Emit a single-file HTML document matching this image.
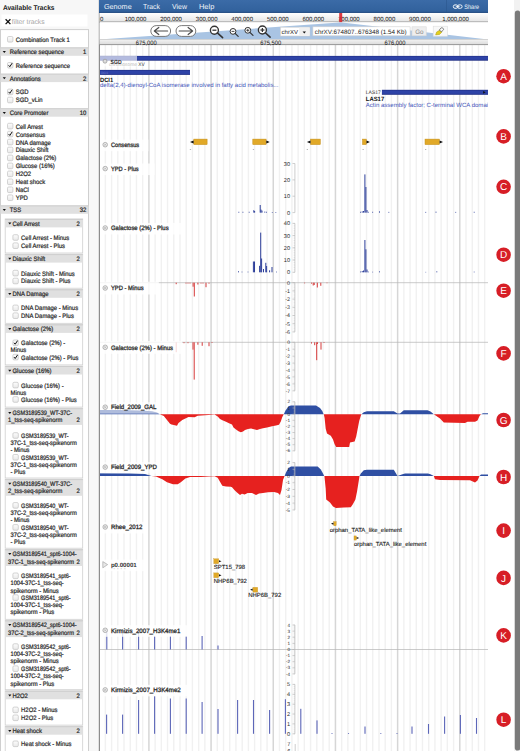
<!DOCTYPE html><html><head><meta charset="utf-8"><title>JBrowse</title><style>html,body{margin:0;padding:0;background:#fff;overflow:hidden;width:520px;height:751px}svg{display:block;text-rendering:geometricPrecision}</style></head><body><svg width="520" height="751" viewBox="0 0 520 751" font-family='"Liberation Sans", sans-serif'>
<rect x="0.00" y="0.00" width="520.00" height="751.00" fill="#ffffff" />
<defs><linearGradient id="cbg" x1="0" y1="0" x2="0" y2="1"><stop offset="0" stop-color="#fdfdfd"/><stop offset="1" stop-color="#e9e9e9"/></linearGradient></defs>
<rect x="0.00" y="0.00" width="99.00" height="751.00" fill="#f7f7f7" />
<text x="2.90" y="10.41" font-size="7.0" fill="#1a1a1a" font-weight="bold" textLength="51.60" lengthAdjust="spacingAndGlyphs" >Available Tracks</text>
<rect x="1.50" y="14.50" width="86.00" height="12.00" fill="#ffffff" />
<path d="M5.6 19.3 L10.4 24.1 M10.4 19.3 L5.6 24.1" fill="none" stroke="#111" stroke-width="1.3" />
<text x="11.80" y="24.47" font-size="6.8" fill="#a6a6a6" >filter tracks</text>
<rect x="0.50" y="29.60" width="88.00" height="730.00" fill="#ffffff" stroke="#cfcfcf" stroke-width="1"/>
<rect x="7.50" y="36.50" width="5.4" height="5.6" rx="1.2" fill="url(#cbg)" stroke="#c2c2c2" stroke-width="0.7"/>
<text x="0.00" y="0.00" font-size="6.4" fill="#2a2a2a" transform="translate(15.70 41.78) scale(0.922 1)" stroke="#2a2a2a" stroke-width="0.22" >Combination Track 1</text>
<rect x="0.50" y="47.40" width="87.90" height="8.40" fill="#e0e0e0" />
<line x1="0.50" y1="47.80" x2="88.40" y2="47.80" stroke="#c8c8c8" stroke-width="0.8" />
<path d="M2.70 51.00 L5.90 51.00 L4.30 53.00 Z" fill="#111" stroke="none" stroke-width="1" />
<text x="0.00" y="0.00" font-size="6.4" fill="#2a2a2a" transform="translate(9.70 54.38) scale(0.922 1)" stroke="#2a2a2a" stroke-width="0.22" >Reference sequence</text>
<text x="0.00" y="0.00" font-size="6.4" fill="#2a2a2a" transform="translate(86.30 54.38) scale(0.922 1)" text-anchor="end" stroke="#2a2a2a" stroke-width="0.22" >1</text>
<rect x="7.50" y="62.50" width="5.4" height="5.6" rx="1.2" fill="url(#cbg)" stroke="#c2c2c2" stroke-width="0.7"/>
<path d="M8.60 65.30 L9.80 66.70 L12.20 63.10" fill="none" stroke="#111" stroke-width="1.0" />
<text x="0.00" y="0.00" font-size="6.4" fill="#2a2a2a" transform="translate(15.70 67.78) scale(0.922 1)" stroke="#2a2a2a" stroke-width="0.22" >Reference sequence</text>
<rect x="0.50" y="73.70" width="87.90" height="8.40" fill="#e0e0e0" />
<line x1="0.50" y1="74.10" x2="88.40" y2="74.10" stroke="#c8c8c8" stroke-width="0.8" />
<path d="M2.70 77.30 L5.90 77.30 L4.30 79.30 Z" fill="#111" stroke="none" stroke-width="1" />
<text x="0.00" y="0.00" font-size="6.4" fill="#2a2a2a" transform="translate(9.70 80.68) scale(0.922 1)" stroke="#2a2a2a" stroke-width="0.22" >Annotations</text>
<text x="0.00" y="0.00" font-size="6.4" fill="#2a2a2a" transform="translate(86.30 80.68) scale(0.922 1)" text-anchor="end" stroke="#2a2a2a" stroke-width="0.22" >2</text>
<rect x="7.50" y="89.10" width="5.4" height="5.6" rx="1.2" fill="url(#cbg)" stroke="#c2c2c2" stroke-width="0.7"/>
<path d="M8.60 91.90 L9.80 93.30 L12.20 89.70" fill="none" stroke="#111" stroke-width="1.0" />
<text x="0.00" y="0.00" font-size="6.4" fill="#2a2a2a" transform="translate(15.70 94.38) scale(0.922 1)" stroke="#2a2a2a" stroke-width="0.22" >SGD</text>
<rect x="7.50" y="97.20" width="5.4" height="5.6" rx="1.2" fill="url(#cbg)" stroke="#c2c2c2" stroke-width="0.7"/>
<text x="0.00" y="0.00" font-size="6.4" fill="#2a2a2a" transform="translate(15.70 102.48) scale(0.922 1)" stroke="#2a2a2a" stroke-width="0.22" >SGD_vLin</text>
<rect x="0.50" y="108.30" width="87.90" height="8.40" fill="#e0e0e0" />
<line x1="0.50" y1="108.70" x2="88.40" y2="108.70" stroke="#c8c8c8" stroke-width="0.8" />
<path d="M2.70 111.90 L5.90 111.90 L4.30 113.90 Z" fill="#111" stroke="none" stroke-width="1" />
<text x="0.00" y="0.00" font-size="6.4" fill="#2a2a2a" transform="translate(9.70 115.28) scale(0.922 1)" stroke="#2a2a2a" stroke-width="0.22" >Core Promoter</text>
<text x="0.00" y="0.00" font-size="6.4" fill="#2a2a2a" transform="translate(86.30 115.28) scale(0.922 1)" text-anchor="end" stroke="#2a2a2a" stroke-width="0.22" >10</text>
<rect x="7.50" y="123.30" width="5.4" height="5.6" rx="1.2" fill="url(#cbg)" stroke="#c2c2c2" stroke-width="0.7"/>
<text x="0.00" y="0.00" font-size="6.4" fill="#2a2a2a" transform="translate(15.70 128.58) scale(0.922 1)" stroke="#2a2a2a" stroke-width="0.22" >Cell Arrest</text>
<rect x="7.50" y="131.26" width="5.4" height="5.6" rx="1.2" fill="url(#cbg)" stroke="#c2c2c2" stroke-width="0.7"/>
<path d="M8.60 134.06 L9.80 135.46 L12.20 131.86" fill="none" stroke="#111" stroke-width="1.0" />
<text x="0.00" y="0.00" font-size="6.4" fill="#2a2a2a" transform="translate(15.70 136.54) scale(0.922 1)" stroke="#2a2a2a" stroke-width="0.22" >Consensus</text>
<rect x="7.50" y="139.22" width="5.4" height="5.6" rx="1.2" fill="url(#cbg)" stroke="#c2c2c2" stroke-width="0.7"/>
<text x="0.00" y="0.00" font-size="6.4" fill="#2a2a2a" transform="translate(15.70 144.50) scale(0.922 1)" stroke="#2a2a2a" stroke-width="0.22" >DNA damage</text>
<rect x="7.50" y="147.18" width="5.4" height="5.6" rx="1.2" fill="url(#cbg)" stroke="#c2c2c2" stroke-width="0.7"/>
<text x="0.00" y="0.00" font-size="6.4" fill="#2a2a2a" transform="translate(15.70 152.46) scale(0.922 1)" stroke="#2a2a2a" stroke-width="0.22" >Diauxic Shift</text>
<rect x="7.50" y="155.14" width="5.4" height="5.6" rx="1.2" fill="url(#cbg)" stroke="#c2c2c2" stroke-width="0.7"/>
<text x="0.00" y="0.00" font-size="6.4" fill="#2a2a2a" transform="translate(15.70 160.42) scale(0.922 1)" stroke="#2a2a2a" stroke-width="0.22" >Galactose (2%)</text>
<rect x="7.50" y="163.10" width="5.4" height="5.6" rx="1.2" fill="url(#cbg)" stroke="#c2c2c2" stroke-width="0.7"/>
<text x="0.00" y="0.00" font-size="6.4" fill="#2a2a2a" transform="translate(15.70 168.38) scale(0.922 1)" stroke="#2a2a2a" stroke-width="0.22" >Glucose (16%)</text>
<rect x="7.50" y="171.06" width="5.4" height="5.6" rx="1.2" fill="url(#cbg)" stroke="#c2c2c2" stroke-width="0.7"/>
<text x="0.00" y="0.00" font-size="6.4" fill="#2a2a2a" transform="translate(15.70 176.34) scale(0.922 1)" stroke="#2a2a2a" stroke-width="0.22" >H2O2</text>
<rect x="7.50" y="179.02" width="5.4" height="5.6" rx="1.2" fill="url(#cbg)" stroke="#c2c2c2" stroke-width="0.7"/>
<text x="0.00" y="0.00" font-size="6.4" fill="#2a2a2a" transform="translate(15.70 184.30) scale(0.922 1)" stroke="#2a2a2a" stroke-width="0.22" >Heat shock</text>
<rect x="7.50" y="186.98" width="5.4" height="5.6" rx="1.2" fill="url(#cbg)" stroke="#c2c2c2" stroke-width="0.7"/>
<text x="0.00" y="0.00" font-size="6.4" fill="#2a2a2a" transform="translate(15.70 192.26) scale(0.922 1)" stroke="#2a2a2a" stroke-width="0.22" >NaCl</text>
<rect x="7.50" y="194.94" width="5.4" height="5.6" rx="1.2" fill="url(#cbg)" stroke="#c2c2c2" stroke-width="0.7"/>
<text x="0.00" y="0.00" font-size="6.4" fill="#2a2a2a" transform="translate(15.70 200.22) scale(0.922 1)" stroke="#2a2a2a" stroke-width="0.22" >YPD</text>
<rect x="0.50" y="205.40" width="87.90" height="8.40" fill="#e0e0e0" />
<line x1="0.50" y1="205.80" x2="88.40" y2="205.80" stroke="#c8c8c8" stroke-width="0.8" />
<path d="M2.70 209.00 L5.90 209.00 L4.30 211.00 Z" fill="#111" stroke="none" stroke-width="1" />
<text x="0.00" y="0.00" font-size="6.4" fill="#2a2a2a" transform="translate(9.70 212.38) scale(0.922 1)" stroke="#2a2a2a" stroke-width="0.22" >TSS</text>
<text x="0.00" y="0.00" font-size="6.4" fill="#2a2a2a" transform="translate(86.30 212.38) scale(0.922 1)" text-anchor="end" stroke="#2a2a2a" stroke-width="0.22" >32</text>
<rect x="5.20" y="219.00" width="77.50" height="34.00" fill="#ffffff" stroke="#cfcfcf" stroke-width="0.8"/>
<rect x="5.20" y="219.00" width="77.50" height="8.40" fill="#e0e0e0" />
<line x1="5.20" y1="219.40" x2="82.70" y2="219.40" stroke="#c8c8c8" stroke-width="0.8" />
<path d="M8.20 222.60 L11.40 222.60 L9.80 224.60 Z" fill="#111" stroke="none" stroke-width="1" />
<text x="0.00" y="0.00" font-size="6.4" fill="#2a2a2a" transform="translate(12.50 225.98) scale(0.922 1)" stroke="#2a2a2a" stroke-width="0.22" >Cell Arrest</text>
<text x="0.00" y="0.00" font-size="6.4" fill="#2a2a2a" transform="translate(79.70 225.98) scale(0.922 1)" text-anchor="end" stroke="#2a2a2a" stroke-width="0.22" >2</text>
<rect x="12.90" y="234.70" width="5.4" height="5.6" rx="1.2" fill="url(#cbg)" stroke="#c2c2c2" stroke-width="0.7"/>
<text x="0.00" y="0.00" font-size="6.4" fill="#2a2a2a" transform="translate(21.10 239.98) scale(0.922 1)" stroke="#2a2a2a" stroke-width="0.22" >Cell Arrest - Minus</text>
<rect x="12.90" y="242.90" width="5.4" height="5.6" rx="1.2" fill="url(#cbg)" stroke="#c2c2c2" stroke-width="0.7"/>
<text x="0.00" y="0.00" font-size="6.4" fill="#2a2a2a" transform="translate(21.10 248.18) scale(0.922 1)" stroke="#2a2a2a" stroke-width="0.22" >Cell Arrest - Plus</text>
<rect x="5.20" y="254.20" width="77.50" height="34.00" fill="#ffffff" stroke="#cfcfcf" stroke-width="0.8"/>
<rect x="5.20" y="254.20" width="77.50" height="8.40" fill="#e0e0e0" />
<line x1="5.20" y1="254.60" x2="82.70" y2="254.60" stroke="#c8c8c8" stroke-width="0.8" />
<path d="M8.20 257.80 L11.40 257.80 L9.80 259.80 Z" fill="#111" stroke="none" stroke-width="1" />
<text x="0.00" y="0.00" font-size="6.4" fill="#2a2a2a" transform="translate(12.50 261.18) scale(0.922 1)" stroke="#2a2a2a" stroke-width="0.22" >Diauxic Shift</text>
<text x="0.00" y="0.00" font-size="6.4" fill="#2a2a2a" transform="translate(79.70 261.18) scale(0.922 1)" text-anchor="end" stroke="#2a2a2a" stroke-width="0.22" >2</text>
<rect x="12.90" y="270.30" width="5.4" height="5.6" rx="1.2" fill="url(#cbg)" stroke="#c2c2c2" stroke-width="0.7"/>
<text x="0.00" y="0.00" font-size="6.4" fill="#2a2a2a" transform="translate(21.10 275.58) scale(0.922 1)" stroke="#2a2a2a" stroke-width="0.22" >Diauxic Shift - Minus</text>
<rect x="12.90" y="278.20" width="5.4" height="5.6" rx="1.2" fill="url(#cbg)" stroke="#c2c2c2" stroke-width="0.7"/>
<text x="0.00" y="0.00" font-size="6.4" fill="#2a2a2a" transform="translate(21.10 283.48) scale(0.922 1)" stroke="#2a2a2a" stroke-width="0.22" >Diauxic Shift - Plus</text>
<rect x="5.20" y="289.40" width="77.50" height="33.90" fill="#ffffff" stroke="#cfcfcf" stroke-width="0.8"/>
<rect x="5.20" y="289.40" width="77.50" height="8.40" fill="#e0e0e0" />
<line x1="5.20" y1="289.80" x2="82.70" y2="289.80" stroke="#c8c8c8" stroke-width="0.8" />
<path d="M8.20 293.00 L11.40 293.00 L9.80 295.00 Z" fill="#111" stroke="none" stroke-width="1" />
<text x="0.00" y="0.00" font-size="6.4" fill="#2a2a2a" transform="translate(12.50 296.38) scale(0.922 1)" stroke="#2a2a2a" stroke-width="0.22" >DNA Damage</text>
<text x="0.00" y="0.00" font-size="6.4" fill="#2a2a2a" transform="translate(79.70 296.38) scale(0.922 1)" text-anchor="end" stroke="#2a2a2a" stroke-width="0.22" >2</text>
<rect x="12.90" y="305.10" width="5.4" height="5.6" rx="1.2" fill="url(#cbg)" stroke="#c2c2c2" stroke-width="0.7"/>
<text x="0.00" y="0.00" font-size="6.4" fill="#2a2a2a" transform="translate(21.10 310.38) scale(0.922 1)" stroke="#2a2a2a" stroke-width="0.22" >DNA Damage - Minus</text>
<rect x="12.90" y="312.90" width="5.4" height="5.6" rx="1.2" fill="url(#cbg)" stroke="#c2c2c2" stroke-width="0.7"/>
<text x="0.00" y="0.00" font-size="6.4" fill="#2a2a2a" transform="translate(21.10 318.18) scale(0.922 1)" stroke="#2a2a2a" stroke-width="0.22" >DNA Damage - Plus</text>
<rect x="5.20" y="324.50" width="77.50" height="40.40" fill="#ffffff" stroke="#cfcfcf" stroke-width="0.8"/>
<rect x="5.20" y="324.50" width="77.50" height="8.40" fill="#e0e0e0" />
<line x1="5.20" y1="324.90" x2="82.70" y2="324.90" stroke="#c8c8c8" stroke-width="0.8" />
<path d="M8.20 328.10 L11.40 328.10 L9.80 330.10 Z" fill="#111" stroke="none" stroke-width="1" />
<text x="0.00" y="0.00" font-size="6.4" fill="#2a2a2a" transform="translate(12.50 331.48) scale(0.922 1)" stroke="#2a2a2a" stroke-width="0.22" >Galactose (2%)</text>
<text x="0.00" y="0.00" font-size="6.4" fill="#2a2a2a" transform="translate(79.70 331.48) scale(0.922 1)" text-anchor="end" stroke="#2a2a2a" stroke-width="0.22" >2</text>
<rect x="12.90" y="340.00" width="5.4" height="5.6" rx="1.2" fill="url(#cbg)" stroke="#c2c2c2" stroke-width="0.7"/>
<path d="M14.00 342.80 L15.20 344.20 L17.60 340.60" fill="none" stroke="#111" stroke-width="1.0" />
<text x="0.00" y="0.00" font-size="6.4" fill="#2a2a2a" transform="translate(21.10 345.28) scale(0.922 1)" stroke="#2a2a2a" stroke-width="0.22" >Galactose (2%) -</text>
<text x="0.00" y="0.00" font-size="6.4" fill="#2a2a2a" transform="translate(10.50 352.48) scale(0.922 1)" stroke="#2a2a2a" stroke-width="0.22" >Minus</text>
<rect x="12.90" y="354.30" width="5.4" height="5.6" rx="1.2" fill="url(#cbg)" stroke="#c2c2c2" stroke-width="0.7"/>
<path d="M14.00 357.10 L15.20 358.50 L17.60 354.90" fill="none" stroke="#111" stroke-width="1.0" />
<text x="0.00" y="0.00" font-size="6.4" fill="#2a2a2a" transform="translate(21.10 359.58) scale(0.922 1)" stroke="#2a2a2a" stroke-width="0.22" >Galactose (2%) - Plus</text>
<rect x="5.20" y="366.10" width="77.50" height="41.00" fill="#ffffff" stroke="#cfcfcf" stroke-width="0.8"/>
<rect x="5.20" y="366.10" width="77.50" height="8.40" fill="#e0e0e0" />
<line x1="5.20" y1="366.50" x2="82.70" y2="366.50" stroke="#c8c8c8" stroke-width="0.8" />
<path d="M8.20 369.70 L11.40 369.70 L9.80 371.70 Z" fill="#111" stroke="none" stroke-width="1" />
<text x="0.00" y="0.00" font-size="6.4" fill="#2a2a2a" transform="translate(12.50 373.08) scale(0.922 1)" stroke="#2a2a2a" stroke-width="0.22" >Glucose (16%)</text>
<text x="0.00" y="0.00" font-size="6.4" fill="#2a2a2a" transform="translate(79.70 373.08) scale(0.922 1)" text-anchor="end" stroke="#2a2a2a" stroke-width="0.22" >2</text>
<rect x="12.90" y="382.30" width="5.4" height="5.6" rx="1.2" fill="url(#cbg)" stroke="#c2c2c2" stroke-width="0.7"/>
<text x="0.00" y="0.00" font-size="6.4" fill="#2a2a2a" transform="translate(21.10 387.58) scale(0.922 1)" stroke="#2a2a2a" stroke-width="0.22" >Glucose (16%) -</text>
<text x="0.00" y="0.00" font-size="6.4" fill="#2a2a2a" transform="translate(10.50 394.78) scale(0.922 1)" stroke="#2a2a2a" stroke-width="0.22" >Minus</text>
<rect x="12.90" y="396.70" width="5.4" height="5.6" rx="1.2" fill="url(#cbg)" stroke="#c2c2c2" stroke-width="0.7"/>
<text x="0.00" y="0.00" font-size="6.4" fill="#2a2a2a" transform="translate(21.10 401.98) scale(0.922 1)" stroke="#2a2a2a" stroke-width="0.22" >Glucose (16%) - Plus</text>
<rect x="5.20" y="408.30" width="77.50" height="69.70" fill="#ffffff" stroke="#cfcfcf" stroke-width="0.8"/>
<rect x="5.20" y="408.30" width="77.50" height="16.60" fill="#e0e0e0" />
<line x1="5.20" y1="408.70" x2="82.70" y2="408.70" stroke="#c8c8c8" stroke-width="0.8" />
<path d="M8.20 411.90 L11.40 411.90 L9.80 413.90 Z" fill="#111" stroke="none" stroke-width="1" />
<text x="0.00" y="0.00" font-size="6.4" fill="#2a2a2a" transform="translate(12.50 415.28) scale(0.922 1)" textLength="64.75" lengthAdjust="spacingAndGlyphs" stroke="#2a2a2a" stroke-width="0.22" >GSM3189539_WT-37C-</text>
<text x="0.00" y="0.00" font-size="6.4" fill="#2a2a2a" transform="translate(8.10 422.48) scale(0.922 1)" textLength="58.79" lengthAdjust="spacingAndGlyphs" stroke="#2a2a2a" stroke-width="0.22" >1_tss-seq-spikenorm</text>
<text x="0.00" y="0.00" font-size="6.4" fill="#2a2a2a" transform="translate(79.70 422.48) scale(0.922 1)" text-anchor="end" stroke="#2a2a2a" stroke-width="0.22" >2</text>
<rect x="12.90" y="432.70" width="5.4" height="5.6" rx="1.2" fill="url(#cbg)" stroke="#c2c2c2" stroke-width="0.7"/>
<text x="0.00" y="0.00" font-size="6.4" fill="#2a2a2a" transform="translate(21.10 437.98) scale(0.922 1)" textLength="51.52" lengthAdjust="spacingAndGlyphs" stroke="#2a2a2a" stroke-width="0.22" >GSM3189539_WT-</text>
<text x="0.00" y="0.00" font-size="6.4" fill="#2a2a2a" transform="translate(10.50 445.18) scale(0.922 1)" textLength="71.91" lengthAdjust="spacingAndGlyphs" stroke="#2a2a2a" stroke-width="0.22" >37C-1_tss-seq-spikenorm</text>
<text x="0.00" y="0.00" font-size="6.4" fill="#2a2a2a" transform="translate(10.50 452.38) scale(0.922 1)" textLength="20.61" lengthAdjust="spacingAndGlyphs" stroke="#2a2a2a" stroke-width="0.22" >- Minus</text>
<rect x="12.90" y="454.50" width="5.4" height="5.6" rx="1.2" fill="url(#cbg)" stroke="#c2c2c2" stroke-width="0.7"/>
<text x="0.00" y="0.00" font-size="6.4" fill="#2a2a2a" transform="translate(21.10 459.78) scale(0.922 1)" textLength="51.52" lengthAdjust="spacingAndGlyphs" stroke="#2a2a2a" stroke-width="0.22" >GSM3189539_WT-</text>
<text x="0.00" y="0.00" font-size="6.4" fill="#2a2a2a" transform="translate(10.50 466.98) scale(0.922 1)" textLength="71.91" lengthAdjust="spacingAndGlyphs" stroke="#2a2a2a" stroke-width="0.22" >37C-1_tss-seq-spikenorm</text>
<text x="0.00" y="0.00" font-size="6.4" fill="#2a2a2a" transform="translate(10.50 474.18) scale(0.922 1)" textLength="16.05" lengthAdjust="spacingAndGlyphs" stroke="#2a2a2a" stroke-width="0.22" >- Plus</text>
<rect x="5.20" y="479.20" width="77.50" height="69.00" fill="#ffffff" stroke="#cfcfcf" stroke-width="0.8"/>
<rect x="5.20" y="479.20" width="77.50" height="16.60" fill="#e0e0e0" />
<line x1="5.20" y1="479.60" x2="82.70" y2="479.60" stroke="#c8c8c8" stroke-width="0.8" />
<path d="M8.20 482.80 L11.40 482.80 L9.80 484.80 Z" fill="#111" stroke="none" stroke-width="1" />
<text x="0.00" y="0.00" font-size="6.4" fill="#2a2a2a" transform="translate(12.50 486.18) scale(0.922 1)" textLength="64.75" lengthAdjust="spacingAndGlyphs" stroke="#2a2a2a" stroke-width="0.22" >GSM3189540_WT-37C-</text>
<text x="0.00" y="0.00" font-size="6.4" fill="#2a2a2a" transform="translate(8.10 493.38) scale(0.922 1)" textLength="58.79" lengthAdjust="spacingAndGlyphs" stroke="#2a2a2a" stroke-width="0.22" >2_tss-seq-spikenorm</text>
<text x="0.00" y="0.00" font-size="6.4" fill="#2a2a2a" transform="translate(79.70 493.38) scale(0.922 1)" text-anchor="end" stroke="#2a2a2a" stroke-width="0.22" >2</text>
<rect x="12.90" y="502.60" width="5.4" height="5.6" rx="1.2" fill="url(#cbg)" stroke="#c2c2c2" stroke-width="0.7"/>
<text x="0.00" y="0.00" font-size="6.4" fill="#2a2a2a" transform="translate(21.10 507.88) scale(0.922 1)" textLength="51.52" lengthAdjust="spacingAndGlyphs" stroke="#2a2a2a" stroke-width="0.22" >GSM3189540_WT-</text>
<text x="0.00" y="0.00" font-size="6.4" fill="#2a2a2a" transform="translate(10.50 515.08) scale(0.922 1)" textLength="71.91" lengthAdjust="spacingAndGlyphs" stroke="#2a2a2a" stroke-width="0.22" >37C-2_tss-seq-spikenorm</text>
<text x="0.00" y="0.00" font-size="6.4" fill="#2a2a2a" transform="translate(10.50 522.28) scale(0.922 1)" textLength="20.61" lengthAdjust="spacingAndGlyphs" stroke="#2a2a2a" stroke-width="0.22" >- Minus</text>
<rect x="12.90" y="524.60" width="5.4" height="5.6" rx="1.2" fill="url(#cbg)" stroke="#c2c2c2" stroke-width="0.7"/>
<text x="0.00" y="0.00" font-size="6.4" fill="#2a2a2a" transform="translate(21.10 529.88) scale(0.922 1)" textLength="51.52" lengthAdjust="spacingAndGlyphs" stroke="#2a2a2a" stroke-width="0.22" >GSM3189540_WT-</text>
<text x="0.00" y="0.00" font-size="6.4" fill="#2a2a2a" transform="translate(10.50 537.08) scale(0.922 1)" textLength="71.91" lengthAdjust="spacingAndGlyphs" stroke="#2a2a2a" stroke-width="0.22" >37C-2_tss-seq-spikenorm</text>
<text x="0.00" y="0.00" font-size="6.4" fill="#2a2a2a" transform="translate(10.50 544.28) scale(0.922 1)" textLength="16.05" lengthAdjust="spacingAndGlyphs" stroke="#2a2a2a" stroke-width="0.22" >- Plus</text>
<rect x="5.20" y="549.40" width="77.50" height="69.90" fill="#ffffff" stroke="#cfcfcf" stroke-width="0.8"/>
<rect x="5.20" y="549.40" width="77.50" height="16.60" fill="#e0e0e0" />
<line x1="5.20" y1="549.80" x2="82.70" y2="549.80" stroke="#c8c8c8" stroke-width="0.8" />
<path d="M8.20 553.00 L11.40 553.00 L9.80 555.00 Z" fill="#111" stroke="none" stroke-width="1" />
<text x="0.00" y="0.00" font-size="6.4" fill="#2a2a2a" transform="translate(12.50 556.38) scale(0.922 1)" textLength="69.63" lengthAdjust="spacingAndGlyphs" stroke="#2a2a2a" stroke-width="0.22" >GSM3189541_spt6-1004-</text>
<text x="0.00" y="0.00" font-size="6.4" fill="#2a2a2a" transform="translate(8.10 563.58) scale(0.922 1)" textLength="71.48" lengthAdjust="spacingAndGlyphs" stroke="#2a2a2a" stroke-width="0.22" >37C-1_tss-seq-spikenorm</text>
<text x="0.00" y="0.00" font-size="6.4" fill="#2a2a2a" transform="translate(79.70 563.58) scale(0.922 1)" text-anchor="end" stroke="#2a2a2a" stroke-width="0.22" >2</text>
<rect x="12.90" y="573.00" width="5.4" height="5.6" rx="1.2" fill="url(#cbg)" stroke="#c2c2c2" stroke-width="0.7"/>
<text x="0.00" y="0.00" font-size="6.4" fill="#2a2a2a" transform="translate(21.10 578.28) scale(0.922 1)" textLength="53.80" lengthAdjust="spacingAndGlyphs" stroke="#2a2a2a" stroke-width="0.22" >GSM3189541_spt6-</text>
<text x="0.00" y="0.00" font-size="6.4" fill="#2a2a2a" transform="translate(10.50 585.48) scale(0.922 1)" textLength="57.70" lengthAdjust="spacingAndGlyphs" stroke="#2a2a2a" stroke-width="0.22" >1004-37C-1_tss-seq-</text>
<text x="0.00" y="0.00" font-size="6.4" fill="#2a2a2a" transform="translate(10.50 592.68) scale(0.922 1)" textLength="52.28" lengthAdjust="spacingAndGlyphs" stroke="#2a2a2a" stroke-width="0.22" >spikenorm - Minus</text>
<rect x="12.90" y="594.80" width="5.4" height="5.6" rx="1.2" fill="url(#cbg)" stroke="#c2c2c2" stroke-width="0.7"/>
<text x="0.00" y="0.00" font-size="6.4" fill="#2a2a2a" transform="translate(21.10 600.08) scale(0.922 1)" textLength="53.80" lengthAdjust="spacingAndGlyphs" stroke="#2a2a2a" stroke-width="0.22" >GSM3189541_spt6-</text>
<text x="0.00" y="0.00" font-size="6.4" fill="#2a2a2a" transform="translate(10.50 607.28) scale(0.922 1)" textLength="57.70" lengthAdjust="spacingAndGlyphs" stroke="#2a2a2a" stroke-width="0.22" >1004-37C-1_tss-seq-</text>
<text x="0.00" y="0.00" font-size="6.4" fill="#2a2a2a" transform="translate(10.50 614.48) scale(0.922 1)" textLength="47.51" lengthAdjust="spacingAndGlyphs" stroke="#2a2a2a" stroke-width="0.22" >spikenorm - Plus</text>
<rect x="5.20" y="620.50" width="77.50" height="69.20" fill="#ffffff" stroke="#cfcfcf" stroke-width="0.8"/>
<rect x="5.20" y="620.50" width="77.50" height="16.60" fill="#e0e0e0" />
<line x1="5.20" y1="620.90" x2="82.70" y2="620.90" stroke="#c8c8c8" stroke-width="0.8" />
<path d="M8.20 624.10 L11.40 624.10 L9.80 626.10 Z" fill="#111" stroke="none" stroke-width="1" />
<text x="0.00" y="0.00" font-size="6.4" fill="#2a2a2a" transform="translate(12.50 627.48) scale(0.922 1)" textLength="69.63" lengthAdjust="spacingAndGlyphs" stroke="#2a2a2a" stroke-width="0.22" >GSM3189542_spt6-1004-</text>
<text x="0.00" y="0.00" font-size="6.4" fill="#2a2a2a" transform="translate(8.10 634.68) scale(0.922 1)" textLength="71.48" lengthAdjust="spacingAndGlyphs" stroke="#2a2a2a" stroke-width="0.22" >37C-2_tss-seq-spikenorm</text>
<text x="0.00" y="0.00" font-size="6.4" fill="#2a2a2a" transform="translate(79.70 634.68) scale(0.922 1)" text-anchor="end" stroke="#2a2a2a" stroke-width="0.22" >2</text>
<rect x="12.90" y="643.80" width="5.4" height="5.6" rx="1.2" fill="url(#cbg)" stroke="#c2c2c2" stroke-width="0.7"/>
<text x="0.00" y="0.00" font-size="6.4" fill="#2a2a2a" transform="translate(21.10 649.08) scale(0.922 1)" textLength="53.80" lengthAdjust="spacingAndGlyphs" stroke="#2a2a2a" stroke-width="0.22" >GSM3189542_spt6-</text>
<text x="0.00" y="0.00" font-size="6.4" fill="#2a2a2a" transform="translate(10.50 656.28) scale(0.922 1)" textLength="57.70" lengthAdjust="spacingAndGlyphs" stroke="#2a2a2a" stroke-width="0.22" >1004-37C-2_tss-seq-</text>
<text x="0.00" y="0.00" font-size="6.4" fill="#2a2a2a" transform="translate(10.50 663.48) scale(0.922 1)" textLength="52.28" lengthAdjust="spacingAndGlyphs" stroke="#2a2a2a" stroke-width="0.22" >spikenorm - Minus</text>
<rect x="12.90" y="665.90" width="5.4" height="5.6" rx="1.2" fill="url(#cbg)" stroke="#c2c2c2" stroke-width="0.7"/>
<text x="0.00" y="0.00" font-size="6.4" fill="#2a2a2a" transform="translate(21.10 671.18) scale(0.922 1)" textLength="53.80" lengthAdjust="spacingAndGlyphs" stroke="#2a2a2a" stroke-width="0.22" >GSM3189542_spt6-</text>
<text x="0.00" y="0.00" font-size="6.4" fill="#2a2a2a" transform="translate(10.50 678.38) scale(0.922 1)" textLength="57.70" lengthAdjust="spacingAndGlyphs" stroke="#2a2a2a" stroke-width="0.22" >1004-37C-2_tss-seq-</text>
<text x="0.00" y="0.00" font-size="6.4" fill="#2a2a2a" transform="translate(10.50 685.58) scale(0.922 1)" textLength="47.51" lengthAdjust="spacingAndGlyphs" stroke="#2a2a2a" stroke-width="0.22" >spikenorm - Plus</text>
<rect x="5.20" y="690.90" width="77.50" height="34.20" fill="#ffffff" stroke="#cfcfcf" stroke-width="0.8"/>
<rect x="5.20" y="690.90" width="77.50" height="8.40" fill="#e0e0e0" />
<line x1="5.20" y1="691.30" x2="82.70" y2="691.30" stroke="#c8c8c8" stroke-width="0.8" />
<path d="M8.20 694.50 L11.40 694.50 L9.80 696.50 Z" fill="#111" stroke="none" stroke-width="1" />
<text x="0.00" y="0.00" font-size="6.4" fill="#2a2a2a" transform="translate(12.50 697.88) scale(0.922 1)" stroke="#2a2a2a" stroke-width="0.22" >H2O2</text>
<text x="0.00" y="0.00" font-size="6.4" fill="#2a2a2a" transform="translate(79.70 697.88) scale(0.922 1)" text-anchor="end" stroke="#2a2a2a" stroke-width="0.22" >2</text>
<rect x="12.90" y="707.10" width="5.4" height="5.6" rx="1.2" fill="url(#cbg)" stroke="#c2c2c2" stroke-width="0.7"/>
<text x="0.00" y="0.00" font-size="6.4" fill="#2a2a2a" transform="translate(21.10 712.38) scale(0.922 1)" stroke="#2a2a2a" stroke-width="0.22" >H2O2 - Minus</text>
<rect x="12.90" y="715.00" width="5.4" height="5.6" rx="1.2" fill="url(#cbg)" stroke="#c2c2c2" stroke-width="0.7"/>
<text x="0.00" y="0.00" font-size="6.4" fill="#2a2a2a" transform="translate(21.10 720.28) scale(0.922 1)" stroke="#2a2a2a" stroke-width="0.22" >H2O2 - Plus</text>
<rect x="5.20" y="726.30" width="77.50" height="72.50" fill="#ffffff" stroke="#cfcfcf" stroke-width="0.8"/>
<rect x="5.20" y="726.30" width="77.50" height="8.40" fill="#e0e0e0" />
<line x1="5.20" y1="726.70" x2="82.70" y2="726.70" stroke="#c8c8c8" stroke-width="0.8" />
<path d="M8.20 729.90 L11.40 729.90 L9.80 731.90 Z" fill="#111" stroke="none" stroke-width="1" />
<text x="0.00" y="0.00" font-size="6.4" fill="#2a2a2a" transform="translate(12.50 733.28) scale(0.922 1)" stroke="#2a2a2a" stroke-width="0.22" >Heat shock</text>
<text x="0.00" y="0.00" font-size="6.4" fill="#2a2a2a" transform="translate(79.70 733.28) scale(0.922 1)" text-anchor="end" stroke="#2a2a2a" stroke-width="0.22" >2</text>
<rect x="12.90" y="741.00" width="5.4" height="5.6" rx="1.2" fill="url(#cbg)" stroke="#c2c2c2" stroke-width="0.7"/>
<text x="0.00" y="0.00" font-size="6.4" fill="#2a2a2a" transform="translate(21.10 746.28) scale(0.922 1)" stroke="#2a2a2a" stroke-width="0.22" >Heat shock - Minus</text>
<rect x="99.50" y="45.00" width="388.50" height="706.00" fill="#ffffff" />
<line x1="105.37" y1="45.00" x2="105.37" y2="751.00" stroke="#f1f1f1" stroke-width="1.4" />
<line x1="111.59" y1="45.00" x2="111.59" y2="751.00" stroke="#f1f1f1" stroke-width="1.4" />
<line x1="117.81" y1="45.00" x2="117.81" y2="751.00" stroke="#f1f1f1" stroke-width="1.4" />
<line x1="124.03" y1="45.00" x2="124.03" y2="751.00" stroke="#f1f1f1" stroke-width="1.4" />
<line x1="130.25" y1="45.00" x2="130.25" y2="751.00" stroke="#f1f1f1" stroke-width="1.4" />
<line x1="136.46" y1="45.00" x2="136.46" y2="751.00" stroke="#f1f1f1" stroke-width="1.4" />
<line x1="142.68" y1="45.00" x2="142.68" y2="751.00" stroke="#f1f1f1" stroke-width="1.4" />
<line x1="148.90" y1="45.00" x2="148.90" y2="751.00" stroke="#d6d6d6" stroke-width="1.5" />
<line x1="155.12" y1="45.00" x2="155.12" y2="751.00" stroke="#f1f1f1" stroke-width="1.4" />
<line x1="161.34" y1="45.00" x2="161.34" y2="751.00" stroke="#f1f1f1" stroke-width="1.4" />
<line x1="167.55" y1="45.00" x2="167.55" y2="751.00" stroke="#f1f1f1" stroke-width="1.4" />
<line x1="173.77" y1="45.00" x2="173.77" y2="751.00" stroke="#f1f1f1" stroke-width="1.4" />
<line x1="179.99" y1="45.00" x2="179.99" y2="751.00" stroke="#f1f1f1" stroke-width="1.4" />
<line x1="186.21" y1="45.00" x2="186.21" y2="751.00" stroke="#f1f1f1" stroke-width="1.4" />
<line x1="192.43" y1="45.00" x2="192.43" y2="751.00" stroke="#f1f1f1" stroke-width="1.4" />
<line x1="198.64" y1="45.00" x2="198.64" y2="751.00" stroke="#f1f1f1" stroke-width="1.4" />
<line x1="204.86" y1="45.00" x2="204.86" y2="751.00" stroke="#f1f1f1" stroke-width="1.4" />
<line x1="211.08" y1="45.00" x2="211.08" y2="751.00" stroke="#d6d6d6" stroke-width="1.5" />
<line x1="217.30" y1="45.00" x2="217.30" y2="751.00" stroke="#f1f1f1" stroke-width="1.4" />
<line x1="223.52" y1="45.00" x2="223.52" y2="751.00" stroke="#f1f1f1" stroke-width="1.4" />
<line x1="229.73" y1="45.00" x2="229.73" y2="751.00" stroke="#f1f1f1" stroke-width="1.4" />
<line x1="235.95" y1="45.00" x2="235.95" y2="751.00" stroke="#f1f1f1" stroke-width="1.4" />
<line x1="242.17" y1="45.00" x2="242.17" y2="751.00" stroke="#f1f1f1" stroke-width="1.4" />
<line x1="248.39" y1="45.00" x2="248.39" y2="751.00" stroke="#f1f1f1" stroke-width="1.4" />
<line x1="254.61" y1="45.00" x2="254.61" y2="751.00" stroke="#f1f1f1" stroke-width="1.4" />
<line x1="260.82" y1="45.00" x2="260.82" y2="751.00" stroke="#f1f1f1" stroke-width="1.4" />
<line x1="267.04" y1="45.00" x2="267.04" y2="751.00" stroke="#f1f1f1" stroke-width="1.4" />
<line x1="273.26" y1="45.00" x2="273.26" y2="751.00" stroke="#d6d6d6" stroke-width="1.5" />
<line x1="279.48" y1="45.00" x2="279.48" y2="751.00" stroke="#f1f1f1" stroke-width="1.4" />
<line x1="285.70" y1="45.00" x2="285.70" y2="751.00" stroke="#f1f1f1" stroke-width="1.4" />
<line x1="291.91" y1="45.00" x2="291.91" y2="751.00" stroke="#f1f1f1" stroke-width="1.4" />
<line x1="298.13" y1="45.00" x2="298.13" y2="751.00" stroke="#f1f1f1" stroke-width="1.4" />
<line x1="304.35" y1="45.00" x2="304.35" y2="751.00" stroke="#f1f1f1" stroke-width="1.4" />
<line x1="310.57" y1="45.00" x2="310.57" y2="751.00" stroke="#f1f1f1" stroke-width="1.4" />
<line x1="316.79" y1="45.00" x2="316.79" y2="751.00" stroke="#f1f1f1" stroke-width="1.4" />
<line x1="323.00" y1="45.00" x2="323.00" y2="751.00" stroke="#f1f1f1" stroke-width="1.4" />
<line x1="329.22" y1="45.00" x2="329.22" y2="751.00" stroke="#f1f1f1" stroke-width="1.4" />
<line x1="335.44" y1="45.00" x2="335.44" y2="751.00" stroke="#d6d6d6" stroke-width="1.5" />
<line x1="341.66" y1="45.00" x2="341.66" y2="751.00" stroke="#f1f1f1" stroke-width="1.4" />
<line x1="347.88" y1="45.00" x2="347.88" y2="751.00" stroke="#f1f1f1" stroke-width="1.4" />
<line x1="354.09" y1="45.00" x2="354.09" y2="751.00" stroke="#f1f1f1" stroke-width="1.4" />
<line x1="360.31" y1="45.00" x2="360.31" y2="751.00" stroke="#f1f1f1" stroke-width="1.4" />
<line x1="366.53" y1="45.00" x2="366.53" y2="751.00" stroke="#f1f1f1" stroke-width="1.4" />
<line x1="372.75" y1="45.00" x2="372.75" y2="751.00" stroke="#f1f1f1" stroke-width="1.4" />
<line x1="378.97" y1="45.00" x2="378.97" y2="751.00" stroke="#f1f1f1" stroke-width="1.4" />
<line x1="385.18" y1="45.00" x2="385.18" y2="751.00" stroke="#f1f1f1" stroke-width="1.4" />
<line x1="391.40" y1="45.00" x2="391.40" y2="751.00" stroke="#f1f1f1" stroke-width="1.4" />
<line x1="397.62" y1="45.00" x2="397.62" y2="751.00" stroke="#d6d6d6" stroke-width="1.5" />
<line x1="403.84" y1="45.00" x2="403.84" y2="751.00" stroke="#f1f1f1" stroke-width="1.4" />
<line x1="410.06" y1="45.00" x2="410.06" y2="751.00" stroke="#f1f1f1" stroke-width="1.4" />
<line x1="416.27" y1="45.00" x2="416.27" y2="751.00" stroke="#f1f1f1" stroke-width="1.4" />
<line x1="422.49" y1="45.00" x2="422.49" y2="751.00" stroke="#f1f1f1" stroke-width="1.4" />
<line x1="428.71" y1="45.00" x2="428.71" y2="751.00" stroke="#f1f1f1" stroke-width="1.4" />
<line x1="434.93" y1="45.00" x2="434.93" y2="751.00" stroke="#f1f1f1" stroke-width="1.4" />
<line x1="441.15" y1="45.00" x2="441.15" y2="751.00" stroke="#f1f1f1" stroke-width="1.4" />
<line x1="447.36" y1="45.00" x2="447.36" y2="751.00" stroke="#f1f1f1" stroke-width="1.4" />
<line x1="453.58" y1="45.00" x2="453.58" y2="751.00" stroke="#f1f1f1" stroke-width="1.4" />
<line x1="459.80" y1="45.00" x2="459.80" y2="751.00" stroke="#d6d6d6" stroke-width="1.5" />
<line x1="466.02" y1="45.00" x2="466.02" y2="751.00" stroke="#f1f1f1" stroke-width="1.4" />
<line x1="472.24" y1="45.00" x2="472.24" y2="751.00" stroke="#f1f1f1" stroke-width="1.4" />
<line x1="478.45" y1="45.00" x2="478.45" y2="751.00" stroke="#f1f1f1" stroke-width="1.4" />
<line x1="484.67" y1="45.00" x2="484.67" y2="751.00" stroke="#f1f1f1" stroke-width="1.4" />
<line x1="99.40" y1="0.00" x2="99.40" y2="751.00" stroke="#8c8c8c" stroke-width="1.2" />
<defs><linearGradient id="mbg" x1="0" y1="0" x2="0" y2="1"><stop offset="0" stop-color="#3b6ba7"/><stop offset="1" stop-color="#30609b"/></linearGradient></defs>
<rect x="99.00" y="0.00" width="389.00" height="13.00" fill="url(#mbg)" />
<rect x="99.00" y="11.80" width="389.00" height="1.20" fill="#2a5287" />
<text x="103.90" y="9.16" font-size="7.2" fill="#f2f6fb" textLength="27.80" lengthAdjust="spacingAndGlyphs" >Genome</text>
<text x="143.10" y="9.16" font-size="7.2" fill="#f2f6fb" textLength="16.70" lengthAdjust="spacingAndGlyphs" >Track</text>
<text x="172.00" y="9.16" font-size="7.2" fill="#f2f6fb" textLength="14.90" lengthAdjust="spacingAndGlyphs" >View</text>
<text x="199.00" y="9.16" font-size="7.2" fill="#f2f6fb" textLength="15.30" lengthAdjust="spacingAndGlyphs" >Help</text>
<rect x="446.00" y="0.00" width="0.60" height="12.00" fill="#2c578e" />
<rect x="453.3" y="4.9" width="4.6" height="3.4" rx="1.7" fill="none" stroke="#f2f6fb" stroke-width="1.0"/>
<rect x="457.5" y="4.9" width="4.6" height="3.4" rx="1.7" fill="none" stroke="#f2f6fb" stroke-width="1.0"/>
<line x1="455.80" y1="6.60" x2="459.60" y2="6.60" stroke="#f2f6fb" stroke-width="0.9" />
<text x="464.30" y="8.88" font-size="6.4" fill="#f2f6fb" textLength="14.80" lengthAdjust="spacingAndGlyphs" >Share</text>
<defs><linearGradient id="ovg" x1="0" y1="0" x2="0" y2="1"><stop offset="0" stop-color="#ffffff"/><stop offset="1" stop-color="#e4e4e4"/></linearGradient><linearGradient id="rg" x1="0" y1="0" x2="0" y2="1"><stop offset="0" stop-color="#f4f4f4"/><stop offset="1" stop-color="#dcdcdc"/></linearGradient></defs>
<rect x="99.50" y="13.00" width="388.50" height="9.00" fill="url(#ovg)" />
<line x1="99.50" y1="21.90" x2="488.00" y2="21.90" stroke="#9a9a9a" stroke-width="0.9" />
<text x="100.00" y="20.60" font-size="6.0" fill="#111" >0</text>
<text x="135.55" y="20.60" font-size="6.0" fill="#111" text-anchor="middle" >100,000</text>
<text x="171.10" y="20.60" font-size="6.0" fill="#111" text-anchor="middle" >200,000</text>
<text x="206.65" y="20.60" font-size="6.0" fill="#111" text-anchor="middle" >300,000</text>
<text x="242.20" y="20.60" font-size="6.0" fill="#111" text-anchor="middle" >400,000</text>
<text x="277.75" y="20.60" font-size="6.0" fill="#111" text-anchor="middle" >500,000</text>
<text x="313.30" y="20.60" font-size="6.0" fill="#111" text-anchor="middle" >600,000</text>
<text x="348.85" y="20.60" font-size="6.0" fill="#111" text-anchor="middle" >700,000</text>
<text x="384.40" y="20.60" font-size="6.0" fill="#111" text-anchor="middle" >800,000</text>
<text x="419.95" y="20.60" font-size="6.0" fill="#111" text-anchor="middle" >900,000</text>
<text x="455.50" y="20.60" font-size="6.0" fill="#111" text-anchor="middle" >1,000,000</text>
<rect x="339.20" y="13.00" width="3.00" height="9.60" fill="#d8262d" opacity="0.9"/>
<rect x="99.50" y="22.40" width="388.50" height="17.00" fill="#ffffff" />
<path d="M99.5 39.4 L339.5 22.6 L342 22.6 L488 39.4 Z" fill="#a9c4e3" stroke="none" stroke-width="1" />
<rect x="150.80" y="25.6" width="19.8" height="10.8" rx="5.4" fill="#ffffff" stroke="#6a6a6a" stroke-width="0.9"/>
<rect x="176.00" y="25.6" width="19.8" height="10.8" rx="5.4" fill="#ffffff" stroke="#6a6a6a" stroke-width="0.9"/>
<path d="M154.3 31.0 L167.6 31.0 M158.8 27.5 L154.3 31.0 L158.8 34.5" fill="none" stroke="#4a4a4a" stroke-width="1.2" stroke-linecap="round" stroke-linejoin="round"/>
<path d="M179.2 31.0 L192.6 31.0 M188.1 27.5 L192.6 31.0 L188.1 34.5" fill="none" stroke="#4a4a4a" stroke-width="1.2" stroke-linecap="round" stroke-linejoin="round"/>
<circle cx="214.4" cy="30.2" r="4.0" fill="#ffffff" stroke="#333" stroke-width="1.4"/>
<line x1="217.37" y1="32.88" x2="222.60" y2="37.60" stroke="#333" stroke-width="1.5999999999999999" stroke-linecap="round"/>
<line x1="212.40" y1="30.20" x2="216.40" y2="30.20" stroke="#333" stroke-width="1.26" />
<circle cx="233.0" cy="31.4" r="2.9" fill="#ffffff" stroke="#333" stroke-width="1.0"/>
<line x1="235.09" y1="33.41" x2="238.20" y2="36.40" stroke="#333" stroke-width="1.2" stroke-linecap="round"/>
<line x1="231.55" y1="31.40" x2="234.45" y2="31.40" stroke="#333" stroke-width="0.9" />
<circle cx="247.8" cy="30.3" r="2.9" fill="#ffffff" stroke="#333" stroke-width="1.0"/>
<line x1="249.87" y1="32.33" x2="253.00" y2="35.40" stroke="#333" stroke-width="1.2" stroke-linecap="round"/>
<line x1="246.35" y1="30.30" x2="249.25" y2="30.30" stroke="#333" stroke-width="0.9" />
<line x1="247.80" y1="28.85" x2="247.80" y2="31.75" stroke="#333" stroke-width="0.9" />
<circle cx="262.4" cy="30.0" r="4.0" fill="#ffffff" stroke="#333" stroke-width="1.4"/>
<line x1="265.32" y1="32.73" x2="270.10" y2="37.20" stroke="#333" stroke-width="1.5999999999999999" stroke-linecap="round"/>
<line x1="260.40" y1="30.00" x2="264.40" y2="30.00" stroke="#333" stroke-width="1.26" />
<line x1="262.40" y1="28.00" x2="262.40" y2="32.00" stroke="#333" stroke-width="1.26" />
<rect x="280.4" y="27.2" width="29.4" height="8.8" fill="#ffffff" stroke="#cfcfcf" stroke-width="0.6"/>
<rect x="299.20" y="27.50" width="10.40" height="8.20" fill="#f0f0f0" />
<path d="M302.6 31.4 L306.0 31.4 L304.3 33.4 Z" fill="#111" stroke="none" stroke-width="1" />
<text x="281.60" y="33.70" font-size="6.0" fill="#222" >chrXV</text>
<rect x="312.9" y="26.8" width="97.2" height="9.0" fill="#ffffff" stroke="#cfcfcf" stroke-width="0.6"/>
<text x="314.80" y="33.91" font-size="6.3" fill="#222" >chrXV:674807..676348 (1.54 Kb)</text>
<rect x="412.0" y="26.8" width="14.2" height="9.0" fill="#eeeeee" stroke="#d8d8d8" stroke-width="0.6"/>
<text x="415.20" y="33.91" font-size="6.3" fill="#8a8a8a" >Go</text>
<rect x="433.2" y="26.2" width="14.2" height="10.0" fill="#f8f8f8" stroke="#dddddd" stroke-width="0.6"/>
<path d="M435.6 34.9 L436.6 32.0 L439.9 30.0 L442.0 31.9 L439.6 34.4 Z" fill="#e2cf1c" stroke="#a8940e" stroke-width="0.45" />
<rect x="-1.9" y="-1.5" width="3.8" height="3.0" rx="1.2" fill="#fbfbfb" stroke="#5a5a5a" stroke-width="0.7" transform="translate(441.6 29.6) rotate(-42)"/>
<rect x="99.50" y="39.20" width="388.50" height="5.20" fill="url(#rg)" />
<line x1="99.50" y1="39.50" x2="488.00" y2="39.50" stroke="#bdbdbd" stroke-width="0.6" />
<line x1="99.50" y1="44.60" x2="488.00" y2="44.60" stroke="#8a8a8a" stroke-width="0.9" />
<text x="146.30" y="44.70" font-size="6.3" fill="#111" text-anchor="middle" textLength="20.90" lengthAdjust="spacingAndGlyphs" >675,000</text>
<text x="270.66" y="44.70" font-size="6.3" fill="#111" text-anchor="middle" textLength="20.90" lengthAdjust="spacingAndGlyphs" >675,500</text>
<text x="395.02" y="44.70" font-size="6.3" fill="#111" text-anchor="middle" textLength="20.90" lengthAdjust="spacingAndGlyphs" >676,000</text>
<clipPath id="trk"><rect x="100" y="45" width="388" height="706"/></clipPath><g clip-path="url(#trk)">
<defs><linearGradient id="fb" x1="0" y1="0" x2="0" y2="1"><stop offset="0" stop-color="#22318a"/><stop offset="0.3" stop-color="#2e43a7"/><stop offset="0.7" stop-color="#2e43a7"/><stop offset="1" stop-color="#1f2d80"/></linearGradient></defs>
<rect x="100.00" y="55.90" width="388.00" height="4.80" fill="url(#fb)" />
<text x="109.00" y="65.68" font-size="5.0" fill="#333" textLength="35.70" lengthAdjust="spacingAndGlyphs" >chromosome XV</text>
<rect x="100.00" y="69.90" width="90.00" height="5.00" fill="url(#fb)" />
<text x="101.00" y="73.59" font-size="3.2" fill="#6f7ac8" >DCI1</text>
<text x="100.00" y="82.04" font-size="6.2" fill="#111" font-weight="bold" textLength="13.20" lengthAdjust="spacingAndGlyphs" >DCI1</text>
<text x="100.00" y="87.23" font-size="6.05" fill="#4656bb" >delta(2,4)-dienoyl-CoA isomerase involved in fatty acid metabolis...</text>
<rect x="381.90" y="89.80" width="106.10" height="5.00" fill="url(#fb)" />
<path d="M483.2 90.9 L485.6 92.35 L483.2 93.8 Z" fill="#111" stroke="none" stroke-width="1" />
<text x="365.80" y="93.98" font-size="5.0" fill="#333" >LAS17</text>
<text x="365.80" y="101.27" font-size="6.1" fill="#111" font-weight="bold" textLength="18.40" lengthAdjust="spacingAndGlyphs" >LAS17</text>
<text x="365.80" y="107.33" font-size="6.05" fill="#4656bb" >Actin assembly factor; C-terminal WCA domain</text>
<rect x="100.00" y="55.90" width="37.00" height="10.60" fill="rgba(255,255,255,0.64)" />
<circle cx="105.0" cy="61.2" r="2.0" fill="#dcdcdc" stroke="#8a8a8a" stroke-width="0.6"/>
<text x="110.60" y="63.70" font-size="6.0" fill="#333" font-weight="bold" textLength="11.00" lengthAdjust="spacingAndGlyphs" >SGD</text>
<rect x="193.80" y="139.10" width="13.30" height="5.50" fill="#e1a928" stroke="#c38e18" stroke-width="0.5"/>
<path d="M193.60 140.5 L190.00 141.95 L193.60 143.4 Z" fill="#111" stroke="none" stroke-width="1" />
<rect x="189.80" y="149.10" width="1.30" height="0.70" fill="#999" />
<rect x="252.80" y="139.10" width="13.30" height="5.50" fill="#e1a928" stroke="#c38e18" stroke-width="0.5"/>
<path d="M266.30 140.5 L269.70 141.95 L266.30 143.4 Z" fill="#111" stroke="none" stroke-width="1" />
<rect x="252.80" y="149.10" width="1.30" height="0.70" fill="#999" />
<rect x="310.70" y="139.10" width="9.60" height="5.50" fill="#e1a928" stroke="#c38e18" stroke-width="0.5"/>
<path d="M310.50 140.5 L306.90 141.95 L310.50 143.4 Z" fill="#111" stroke="none" stroke-width="1" />
<rect x="306.70" y="149.10" width="1.30" height="0.70" fill="#999" />
<rect x="362.50" y="139.10" width="3.80" height="5.50" fill="#e1a928" stroke="#c38e18" stroke-width="0.5"/>
<path d="M366.50 140.5 L369.90 141.95 L366.50 143.4 Z" fill="#111" stroke="none" stroke-width="1" />
<rect x="362.50" y="149.10" width="1.30" height="0.70" fill="#999" />
<rect x="425.00" y="139.10" width="14.40" height="5.50" fill="#e1a928" stroke="#c38e18" stroke-width="0.5"/>
<path d="M439.60 140.5 L443.00 141.95 L439.60 143.4 Z" fill="#111" stroke="none" stroke-width="1" />
<rect x="425.00" y="149.10" width="1.30" height="0.70" fill="#999" />
<rect x="100.00" y="139.60" width="48.40" height="11.60" fill="rgba(255,255,255,0.8)" />
<circle cx="105.2" cy="144.70" r="2.3" fill="#ececec" stroke="#9c9c9c" stroke-width="0.7"/>
<path d="M104.2 143.70 L106.2 145.70 M106.2 143.70 L104.2 145.70" fill="none" stroke="#a8a8a8" stroke-width="0.6" />
<text x="111.00" y="146.91" font-size="6.3" fill="#2e2e2e" textLength="28.20" lengthAdjust="spacingAndGlyphs" stroke="#2e2e2e" stroke-width="0.3" >Consensus</text>
<rect x="238.30" y="211.80" width="1.00" height="0.80" fill="#2d3f9a" />
<rect x="242.40" y="211.80" width="1.00" height="0.80" fill="#2d3f9a" />
<rect x="248.70" y="211.80" width="1.00" height="0.80" fill="#2d3f9a" />
<rect x="253.30" y="210.20" width="1.00" height="2.40" fill="#2d3f9a" />
<rect x="254.10" y="211.00" width="1.00" height="1.60" fill="#2d3f9a" />
<rect x="259.70" y="205.00" width="1.00" height="7.60" fill="#2d3f9a" />
<rect x="260.50" y="209.60" width="1.00" height="3.00" fill="#2d3f9a" />
<rect x="261.50" y="210.60" width="1.00" height="2.00" fill="#2d3f9a" />
<rect x="264.30" y="211.60" width="1.00" height="1.00" fill="#2d3f9a" />
<rect x="266.00" y="211.80" width="1.00" height="0.80" fill="#2d3f9a" />
<rect x="271.80" y="212.00" width="1.00" height="0.60" fill="#2d3f9a" />
<rect x="275.30" y="212.00" width="1.00" height="0.60" fill="#2d3f9a" />
<rect x="360.00" y="211.80" width="1.00" height="0.80" fill="#2d3f9a" />
<rect x="361.70" y="211.40" width="1.00" height="1.20" fill="#2d3f9a" />
<rect x="363.00" y="211.00" width="1.00" height="1.60" fill="#2d3f9a" />
<rect x="364.40" y="174.40" width="1.00" height="38.20" fill="#2d3f9a" />
<rect x="365.40" y="187.00" width="1.00" height="25.60" fill="#2d3f9a" />
<rect x="366.50" y="210.00" width="1.00" height="2.60" fill="#2d3f9a" />
<rect x="367.80" y="211.80" width="1.00" height="0.80" fill="#2d3f9a" />
<rect x="372.10" y="211.80" width="1.00" height="0.80" fill="#2d3f9a" />
<rect x="379.00" y="211.40" width="1.00" height="1.20" fill="#2d3f9a" />
<rect x="388.30" y="211.90" width="1.00" height="0.70" fill="#2d3f9a" />
<rect x="425.20" y="211.90" width="1.00" height="0.70" fill="#2d3f9a" />
<rect x="435.50" y="211.70" width="1.00" height="0.90" fill="#2d3f9a" />
<rect x="455.20" y="211.90" width="1.00" height="0.70" fill="#2d3f9a" />
<rect x="473.70" y="211.80" width="1.00" height="0.80" fill="#2d3f9a" />
<line x1="294.90" y1="163.50" x2="294.90" y2="212.60" stroke="#b8b8b8" stroke-width="0.7" />
<line x1="292.50" y1="163.50" x2="294.90" y2="163.50" stroke="#b0b0b0" stroke-width="0.6" />
<text x="290.00" y="165.50" font-size="5.6" fill="#2a2a2a" text-anchor="end" >30</text>
<line x1="292.50" y1="179.90" x2="294.90" y2="179.90" stroke="#b0b0b0" stroke-width="0.6" />
<text x="290.00" y="181.90" font-size="5.6" fill="#2a2a2a" text-anchor="end" >20</text>
<line x1="292.50" y1="196.20" x2="294.90" y2="196.20" stroke="#b0b0b0" stroke-width="0.6" />
<text x="290.00" y="198.20" font-size="5.6" fill="#2a2a2a" text-anchor="end" >10</text>
<line x1="292.50" y1="212.60" x2="294.90" y2="212.60" stroke="#b0b0b0" stroke-width="0.6" />
<text x="290.00" y="214.60" font-size="5.6" fill="#2a2a2a" text-anchor="end" >0</text>
<rect x="100.00" y="163.50" width="54.60" height="11.60" fill="rgba(255,255,255,0.8)" />
<circle cx="105.2" cy="168.60" r="2.3" fill="#ececec" stroke="#9c9c9c" stroke-width="0.7"/>
<path d="M104.2 167.60 L106.2 169.60 M106.2 167.60 L104.2 169.60" fill="none" stroke="#a8a8a8" stroke-width="0.6" />
<text x="111.00" y="170.81" font-size="6.3" fill="#2e2e2e" textLength="27.70" lengthAdjust="spacingAndGlyphs" stroke="#2e2e2e" stroke-width="0.3" >YPD - Plus</text>
<rect x="238.00" y="271.30" width="1.00" height="1.00" fill="#2d3f9a" />
<rect x="241.50" y="271.70" width="1.00" height="0.60" fill="#2d3f9a" />
<rect x="247.50" y="271.70" width="1.00" height="0.60" fill="#2d3f9a" />
<rect x="252.90" y="261.50" width="1.00" height="10.80" fill="#2d3f9a" />
<rect x="254.00" y="261.50" width="1.00" height="10.80" fill="#2d3f9a" />
<rect x="259.10" y="265.80" width="1.00" height="6.50" fill="#2d3f9a" />
<rect x="260.20" y="232.60" width="1.00" height="39.70" fill="#2d3f9a" />
<rect x="261.10" y="258.50" width="1.00" height="13.80" fill="#2d3f9a" />
<rect x="263.00" y="269.00" width="1.00" height="3.30" fill="#2d3f9a" />
<rect x="265.30" y="262.80" width="1.00" height="9.50" fill="#2d3f9a" />
<rect x="266.10" y="266.00" width="1.00" height="6.30" fill="#2d3f9a" />
<rect x="269.10" y="270.30" width="1.00" height="2.00" fill="#2d3f9a" />
<rect x="271.50" y="267.00" width="1.00" height="5.30" fill="#2d3f9a" />
<rect x="276.00" y="271.70" width="1.00" height="0.60" fill="#2d3f9a" />
<rect x="360.00" y="271.60" width="1.00" height="0.70" fill="#2d3f9a" />
<rect x="361.70" y="271.00" width="1.00" height="1.30" fill="#2d3f9a" />
<rect x="363.00" y="270.50" width="1.00" height="1.80" fill="#2d3f9a" />
<rect x="364.40" y="240.00" width="1.00" height="32.30" fill="#2d3f9a" />
<rect x="365.40" y="249.30" width="1.00" height="23.00" fill="#2d3f9a" />
<rect x="366.50" y="269.50" width="1.00" height="2.80" fill="#2d3f9a" />
<rect x="367.80" y="271.60" width="1.00" height="0.70" fill="#2d3f9a" />
<rect x="372.10" y="271.80" width="1.00" height="0.50" fill="#2d3f9a" />
<rect x="379.00" y="271.40" width="1.00" height="0.90" fill="#2d3f9a" />
<rect x="425.20" y="271.90" width="1.00" height="0.40" fill="#2d3f9a" />
<rect x="436.30" y="271.40" width="1.00" height="0.90" fill="#2d3f9a" />
<rect x="473.70" y="271.70" width="1.00" height="0.60" fill="#2d3f9a" />
<line x1="294.90" y1="223.40" x2="294.90" y2="272.30" stroke="#b8b8b8" stroke-width="0.7" />
<line x1="292.50" y1="223.40" x2="294.90" y2="223.40" stroke="#b0b0b0" stroke-width="0.6" />
<text x="290.00" y="225.40" font-size="5.6" fill="#2a2a2a" text-anchor="end" >40</text>
<line x1="292.50" y1="235.60" x2="294.90" y2="235.60" stroke="#b0b0b0" stroke-width="0.6" />
<text x="290.00" y="237.60" font-size="5.6" fill="#2a2a2a" text-anchor="end" >30</text>
<line x1="292.50" y1="247.80" x2="294.90" y2="247.80" stroke="#b0b0b0" stroke-width="0.6" />
<text x="290.00" y="249.80" font-size="5.6" fill="#2a2a2a" text-anchor="end" >20</text>
<line x1="292.50" y1="260.00" x2="294.90" y2="260.00" stroke="#b0b0b0" stroke-width="0.6" />
<text x="290.00" y="262.00" font-size="5.6" fill="#2a2a2a" text-anchor="end" >10</text>
<line x1="292.50" y1="272.30" x2="294.90" y2="272.30" stroke="#b0b0b0" stroke-width="0.6" />
<text x="290.00" y="274.30" font-size="5.6" fill="#2a2a2a" text-anchor="end" >0</text>
<line x1="293.70" y1="223.40" x2="294.90" y2="223.40" stroke="#c0c0c0" stroke-width="0.45" />
<line x1="293.70" y1="225.84" x2="294.90" y2="225.84" stroke="#c0c0c0" stroke-width="0.45" />
<line x1="293.70" y1="228.29" x2="294.90" y2="228.29" stroke="#c0c0c0" stroke-width="0.45" />
<line x1="293.70" y1="230.74" x2="294.90" y2="230.74" stroke="#c0c0c0" stroke-width="0.45" />
<line x1="293.70" y1="233.18" x2="294.90" y2="233.18" stroke="#c0c0c0" stroke-width="0.45" />
<line x1="293.70" y1="235.62" x2="294.90" y2="235.62" stroke="#c0c0c0" stroke-width="0.45" />
<line x1="293.70" y1="238.07" x2="294.90" y2="238.07" stroke="#c0c0c0" stroke-width="0.45" />
<line x1="293.70" y1="240.52" x2="294.90" y2="240.52" stroke="#c0c0c0" stroke-width="0.45" />
<line x1="293.70" y1="242.96" x2="294.90" y2="242.96" stroke="#c0c0c0" stroke-width="0.45" />
<line x1="293.70" y1="245.41" x2="294.90" y2="245.41" stroke="#c0c0c0" stroke-width="0.45" />
<line x1="293.70" y1="247.85" x2="294.90" y2="247.85" stroke="#c0c0c0" stroke-width="0.45" />
<line x1="293.70" y1="250.30" x2="294.90" y2="250.30" stroke="#c0c0c0" stroke-width="0.45" />
<line x1="293.70" y1="252.74" x2="294.90" y2="252.74" stroke="#c0c0c0" stroke-width="0.45" />
<line x1="293.70" y1="255.19" x2="294.90" y2="255.19" stroke="#c0c0c0" stroke-width="0.45" />
<line x1="293.70" y1="257.63" x2="294.90" y2="257.63" stroke="#c0c0c0" stroke-width="0.45" />
<line x1="293.70" y1="260.07" x2="294.90" y2="260.07" stroke="#c0c0c0" stroke-width="0.45" />
<line x1="293.70" y1="262.52" x2="294.90" y2="262.52" stroke="#c0c0c0" stroke-width="0.45" />
<line x1="293.70" y1="264.97" x2="294.90" y2="264.97" stroke="#c0c0c0" stroke-width="0.45" />
<line x1="293.70" y1="267.41" x2="294.90" y2="267.41" stroke="#c0c0c0" stroke-width="0.45" />
<line x1="293.70" y1="269.86" x2="294.90" y2="269.86" stroke="#c0c0c0" stroke-width="0.45" />
<line x1="293.70" y1="272.30" x2="294.90" y2="272.30" stroke="#c0c0c0" stroke-width="0.45" />
<rect x="100.00" y="222.90" width="81.00" height="11.60" fill="rgba(255,255,255,0.8)" />
<circle cx="105.2" cy="228.00" r="2.3" fill="#ececec" stroke="#9c9c9c" stroke-width="0.7"/>
<path d="M104.2 227.00 L106.2 229.00 M106.2 227.00 L104.2 229.00" fill="none" stroke="#a8a8a8" stroke-width="0.6" />
<text x="111.00" y="230.21" font-size="6.3" fill="#2e2e2e" textLength="57.60" lengthAdjust="spacingAndGlyphs" stroke="#2e2e2e" stroke-width="0.3" >Galactose (2%) - Plus</text>
<line x1="100.00" y1="282.70" x2="488.00" y2="282.70" stroke="#b4b4b4" stroke-width="0.7" />
<rect x="175.70" y="282.70" width="1.00" height="1.50" fill="#d63a3a" />
<rect x="185.50" y="282.70" width="1.00" height="0.80" fill="#d63a3a" />
<rect x="187.50" y="282.70" width="1.00" height="0.80" fill="#d63a3a" />
<rect x="189.50" y="282.70" width="1.00" height="0.80" fill="#d63a3a" />
<rect x="192.60" y="282.70" width="1.00" height="4.00" fill="#d63a3a" />
<rect x="193.80" y="282.70" width="1.00" height="13.80" fill="#d63a3a" />
<rect x="197.40" y="282.70" width="1.00" height="1.80" fill="#d63a3a" />
<rect x="200.50" y="282.70" width="1.00" height="0.80" fill="#d63a3a" />
<rect x="202.50" y="282.70" width="1.00" height="0.80" fill="#d63a3a" />
<rect x="205.50" y="282.70" width="1.00" height="4.50" fill="#d63a3a" />
<rect x="208.50" y="282.70" width="1.00" height="0.90" fill="#d63a3a" />
<rect x="304.10" y="282.70" width="1.00" height="0.60" fill="#d63a3a" />
<rect x="311.00" y="282.70" width="1.00" height="0.90" fill="#d63a3a" />
<rect x="312.70" y="282.70" width="1.00" height="2.80" fill="#d63a3a" />
<rect x="313.70" y="282.70" width="1.00" height="2.30" fill="#d63a3a" />
<rect x="316.80" y="282.70" width="1.00" height="4.80" fill="#d63a3a" />
<rect x="320.30" y="282.70" width="1.00" height="3.10" fill="#d63a3a" />
<rect x="326.50" y="282.70" width="1.00" height="0.50" fill="#d63a3a" />
<line x1="294.90" y1="282.70" x2="294.90" y2="331.90" stroke="#b8b8b8" stroke-width="0.7" />
<line x1="292.50" y1="282.70" x2="294.90" y2="282.70" stroke="#b0b0b0" stroke-width="0.6" />
<text x="290.00" y="284.60" font-size="5.3" fill="#2a2a2a" text-anchor="end" >0</text>
<line x1="292.50" y1="290.90" x2="294.90" y2="290.90" stroke="#b0b0b0" stroke-width="0.6" />
<text x="290.00" y="292.80" font-size="5.3" fill="#2a2a2a" text-anchor="end" >-1</text>
<line x1="292.50" y1="299.10" x2="294.90" y2="299.10" stroke="#b0b0b0" stroke-width="0.6" />
<text x="290.00" y="301.00" font-size="5.3" fill="#2a2a2a" text-anchor="end" >-2</text>
<line x1="292.50" y1="307.30" x2="294.90" y2="307.30" stroke="#b0b0b0" stroke-width="0.6" />
<text x="290.00" y="309.20" font-size="5.3" fill="#2a2a2a" text-anchor="end" >-3</text>
<line x1="292.50" y1="315.50" x2="294.90" y2="315.50" stroke="#b0b0b0" stroke-width="0.6" />
<text x="290.00" y="317.40" font-size="5.3" fill="#2a2a2a" text-anchor="end" >-4</text>
<line x1="292.50" y1="323.70" x2="294.90" y2="323.70" stroke="#b0b0b0" stroke-width="0.6" />
<text x="290.00" y="325.60" font-size="5.3" fill="#2a2a2a" text-anchor="end" >-5</text>
<line x1="292.50" y1="331.90" x2="294.90" y2="331.90" stroke="#b0b0b0" stroke-width="0.6" />
<text x="290.00" y="333.80" font-size="5.3" fill="#2a2a2a" text-anchor="end" >-6</text>
<line x1="293.70" y1="282.70" x2="294.90" y2="282.70" stroke="#c0c0c0" stroke-width="0.45" />
<line x1="293.70" y1="284.34" x2="294.90" y2="284.34" stroke="#c0c0c0" stroke-width="0.45" />
<line x1="293.70" y1="285.98" x2="294.90" y2="285.98" stroke="#c0c0c0" stroke-width="0.45" />
<line x1="293.70" y1="287.62" x2="294.90" y2="287.62" stroke="#c0c0c0" stroke-width="0.45" />
<line x1="293.70" y1="289.26" x2="294.90" y2="289.26" stroke="#c0c0c0" stroke-width="0.45" />
<line x1="293.70" y1="290.90" x2="294.90" y2="290.90" stroke="#c0c0c0" stroke-width="0.45" />
<line x1="293.70" y1="292.54" x2="294.90" y2="292.54" stroke="#c0c0c0" stroke-width="0.45" />
<line x1="293.70" y1="294.18" x2="294.90" y2="294.18" stroke="#c0c0c0" stroke-width="0.45" />
<line x1="293.70" y1="295.82" x2="294.90" y2="295.82" stroke="#c0c0c0" stroke-width="0.45" />
<line x1="293.70" y1="297.46" x2="294.90" y2="297.46" stroke="#c0c0c0" stroke-width="0.45" />
<line x1="293.70" y1="299.10" x2="294.90" y2="299.10" stroke="#c0c0c0" stroke-width="0.45" />
<line x1="293.70" y1="300.74" x2="294.90" y2="300.74" stroke="#c0c0c0" stroke-width="0.45" />
<line x1="293.70" y1="302.38" x2="294.90" y2="302.38" stroke="#c0c0c0" stroke-width="0.45" />
<line x1="293.70" y1="304.02" x2="294.90" y2="304.02" stroke="#c0c0c0" stroke-width="0.45" />
<line x1="293.70" y1="305.66" x2="294.90" y2="305.66" stroke="#c0c0c0" stroke-width="0.45" />
<line x1="293.70" y1="307.30" x2="294.90" y2="307.30" stroke="#c0c0c0" stroke-width="0.45" />
<line x1="293.70" y1="308.94" x2="294.90" y2="308.94" stroke="#c0c0c0" stroke-width="0.45" />
<line x1="293.70" y1="310.58" x2="294.90" y2="310.58" stroke="#c0c0c0" stroke-width="0.45" />
<line x1="293.70" y1="312.22" x2="294.90" y2="312.22" stroke="#c0c0c0" stroke-width="0.45" />
<line x1="293.70" y1="313.86" x2="294.90" y2="313.86" stroke="#c0c0c0" stroke-width="0.45" />
<line x1="293.70" y1="315.50" x2="294.90" y2="315.50" stroke="#c0c0c0" stroke-width="0.45" />
<line x1="293.70" y1="317.14" x2="294.90" y2="317.14" stroke="#c0c0c0" stroke-width="0.45" />
<line x1="293.70" y1="318.78" x2="294.90" y2="318.78" stroke="#c0c0c0" stroke-width="0.45" />
<line x1="293.70" y1="320.42" x2="294.90" y2="320.42" stroke="#c0c0c0" stroke-width="0.45" />
<line x1="293.70" y1="322.06" x2="294.90" y2="322.06" stroke="#c0c0c0" stroke-width="0.45" />
<line x1="293.70" y1="323.70" x2="294.90" y2="323.70" stroke="#c0c0c0" stroke-width="0.45" />
<line x1="293.70" y1="325.34" x2="294.90" y2="325.34" stroke="#c0c0c0" stroke-width="0.45" />
<line x1="293.70" y1="326.98" x2="294.90" y2="326.98" stroke="#c0c0c0" stroke-width="0.45" />
<line x1="293.70" y1="328.62" x2="294.90" y2="328.62" stroke="#c0c0c0" stroke-width="0.45" />
<line x1="293.70" y1="330.26" x2="294.90" y2="330.26" stroke="#c0c0c0" stroke-width="0.45" />
<line x1="293.70" y1="331.90" x2="294.90" y2="331.90" stroke="#c0c0c0" stroke-width="0.45" />
<rect x="100.00" y="281.70" width="58.80" height="12.80" fill="rgba(255,255,255,0.8)" />
<circle cx="105.2" cy="288.00" r="2.3" fill="#ececec" stroke="#9c9c9c" stroke-width="0.7"/>
<path d="M104.2 287.00 L106.2 289.00 M106.2 287.00 L104.2 289.00" fill="none" stroke="#a8a8a8" stroke-width="0.6" />
<text x="111.00" y="290.21" font-size="6.3" fill="#2e2e2e" textLength="32.60" lengthAdjust="spacingAndGlyphs" stroke="#2e2e2e" stroke-width="0.3" >YPD - Minus</text>
<line x1="100.00" y1="342.30" x2="488.00" y2="342.30" stroke="#b4b4b4" stroke-width="0.7" />
<rect x="175.70" y="342.30" width="1.00" height="9.90" fill="#d63a3a" />
<rect x="183.50" y="342.30" width="1.00" height="0.90" fill="#d63a3a" />
<rect x="187.50" y="342.30" width="1.00" height="0.90" fill="#d63a3a" />
<rect x="192.50" y="342.30" width="1.00" height="7.30" fill="#d63a3a" />
<rect x="193.70" y="342.30" width="1.00" height="37.30" fill="#d63a3a" />
<rect x="197.40" y="342.30" width="1.00" height="2.40" fill="#d63a3a" />
<rect x="201.70" y="342.30" width="1.00" height="3.50" fill="#d63a3a" />
<rect x="208.50" y="342.30" width="1.00" height="3.90" fill="#d63a3a" />
<rect x="211.50" y="342.30" width="1.00" height="0.70" fill="#d63a3a" />
<rect x="311.00" y="342.30" width="1.00" height="1.20" fill="#d63a3a" />
<rect x="314.20" y="342.30" width="1.00" height="2.90" fill="#d63a3a" />
<rect x="316.20" y="342.30" width="1.00" height="17.90" fill="#d63a3a" />
<rect x="316.90" y="342.30" width="1.00" height="1.70" fill="#d63a3a" />
<rect x="320.50" y="342.30" width="1.00" height="7.30" fill="#d63a3a" />
<rect x="323.50" y="342.30" width="1.00" height="0.70" fill="#d63a3a" />
<line x1="294.90" y1="342.30" x2="294.90" y2="390.80" stroke="#b8b8b8" stroke-width="0.7" />
<line x1="292.50" y1="342.30" x2="294.90" y2="342.30" stroke="#b0b0b0" stroke-width="0.6" />
<text x="290.00" y="344.05" font-size="4.9" fill="#2a2a2a" text-anchor="end" >0</text>
<line x1="292.50" y1="349.20" x2="294.90" y2="349.20" stroke="#b0b0b0" stroke-width="0.6" />
<text x="290.00" y="350.95" font-size="4.9" fill="#2a2a2a" text-anchor="end" >-1</text>
<line x1="292.50" y1="356.20" x2="294.90" y2="356.20" stroke="#b0b0b0" stroke-width="0.6" />
<text x="290.00" y="357.95" font-size="4.9" fill="#2a2a2a" text-anchor="end" >-2</text>
<line x1="292.50" y1="363.10" x2="294.90" y2="363.10" stroke="#b0b0b0" stroke-width="0.6" />
<text x="290.00" y="364.85" font-size="4.9" fill="#2a2a2a" text-anchor="end" >-3</text>
<line x1="292.50" y1="370.00" x2="294.90" y2="370.00" stroke="#b0b0b0" stroke-width="0.6" />
<text x="290.00" y="371.75" font-size="4.9" fill="#2a2a2a" text-anchor="end" >-4</text>
<line x1="292.50" y1="376.90" x2="294.90" y2="376.90" stroke="#b0b0b0" stroke-width="0.6" />
<text x="290.00" y="378.65" font-size="4.9" fill="#2a2a2a" text-anchor="end" >-5</text>
<line x1="292.50" y1="383.90" x2="294.90" y2="383.90" stroke="#b0b0b0" stroke-width="0.6" />
<text x="290.00" y="385.65" font-size="4.9" fill="#2a2a2a" text-anchor="end" >-6</text>
<line x1="292.50" y1="390.80" x2="294.90" y2="390.80" stroke="#b0b0b0" stroke-width="0.6" />
<text x="290.00" y="392.55" font-size="4.9" fill="#2a2a2a" text-anchor="end" >-7</text>
<line x1="293.70" y1="342.30" x2="294.90" y2="342.30" stroke="#c0c0c0" stroke-width="0.45" />
<line x1="293.70" y1="343.69" x2="294.90" y2="343.69" stroke="#c0c0c0" stroke-width="0.45" />
<line x1="293.70" y1="345.07" x2="294.90" y2="345.07" stroke="#c0c0c0" stroke-width="0.45" />
<line x1="293.70" y1="346.46" x2="294.90" y2="346.46" stroke="#c0c0c0" stroke-width="0.45" />
<line x1="293.70" y1="347.84" x2="294.90" y2="347.84" stroke="#c0c0c0" stroke-width="0.45" />
<line x1="293.70" y1="349.23" x2="294.90" y2="349.23" stroke="#c0c0c0" stroke-width="0.45" />
<line x1="293.70" y1="350.61" x2="294.90" y2="350.61" stroke="#c0c0c0" stroke-width="0.45" />
<line x1="293.70" y1="352.00" x2="294.90" y2="352.00" stroke="#c0c0c0" stroke-width="0.45" />
<line x1="293.70" y1="353.39" x2="294.90" y2="353.39" stroke="#c0c0c0" stroke-width="0.45" />
<line x1="293.70" y1="354.77" x2="294.90" y2="354.77" stroke="#c0c0c0" stroke-width="0.45" />
<line x1="293.70" y1="356.16" x2="294.90" y2="356.16" stroke="#c0c0c0" stroke-width="0.45" />
<line x1="293.70" y1="357.54" x2="294.90" y2="357.54" stroke="#c0c0c0" stroke-width="0.45" />
<line x1="293.70" y1="358.93" x2="294.90" y2="358.93" stroke="#c0c0c0" stroke-width="0.45" />
<line x1="293.70" y1="360.31" x2="294.90" y2="360.31" stroke="#c0c0c0" stroke-width="0.45" />
<line x1="293.70" y1="361.70" x2="294.90" y2="361.70" stroke="#c0c0c0" stroke-width="0.45" />
<line x1="293.70" y1="363.09" x2="294.90" y2="363.09" stroke="#c0c0c0" stroke-width="0.45" />
<line x1="293.70" y1="364.47" x2="294.90" y2="364.47" stroke="#c0c0c0" stroke-width="0.45" />
<line x1="293.70" y1="365.86" x2="294.90" y2="365.86" stroke="#c0c0c0" stroke-width="0.45" />
<line x1="293.70" y1="367.24" x2="294.90" y2="367.24" stroke="#c0c0c0" stroke-width="0.45" />
<line x1="293.70" y1="368.63" x2="294.90" y2="368.63" stroke="#c0c0c0" stroke-width="0.45" />
<line x1="293.70" y1="370.01" x2="294.90" y2="370.01" stroke="#c0c0c0" stroke-width="0.45" />
<line x1="293.70" y1="371.40" x2="294.90" y2="371.40" stroke="#c0c0c0" stroke-width="0.45" />
<line x1="293.70" y1="372.79" x2="294.90" y2="372.79" stroke="#c0c0c0" stroke-width="0.45" />
<line x1="293.70" y1="374.17" x2="294.90" y2="374.17" stroke="#c0c0c0" stroke-width="0.45" />
<line x1="293.70" y1="375.56" x2="294.90" y2="375.56" stroke="#c0c0c0" stroke-width="0.45" />
<line x1="293.70" y1="376.94" x2="294.90" y2="376.94" stroke="#c0c0c0" stroke-width="0.45" />
<line x1="293.70" y1="378.33" x2="294.90" y2="378.33" stroke="#c0c0c0" stroke-width="0.45" />
<line x1="293.70" y1="379.71" x2="294.90" y2="379.71" stroke="#c0c0c0" stroke-width="0.45" />
<line x1="293.70" y1="381.10" x2="294.90" y2="381.10" stroke="#c0c0c0" stroke-width="0.45" />
<line x1="293.70" y1="382.49" x2="294.90" y2="382.49" stroke="#c0c0c0" stroke-width="0.45" />
<line x1="293.70" y1="383.87" x2="294.90" y2="383.87" stroke="#c0c0c0" stroke-width="0.45" />
<line x1="293.70" y1="385.26" x2="294.90" y2="385.26" stroke="#c0c0c0" stroke-width="0.45" />
<line x1="293.70" y1="386.64" x2="294.90" y2="386.64" stroke="#c0c0c0" stroke-width="0.45" />
<line x1="293.70" y1="388.03" x2="294.90" y2="388.03" stroke="#c0c0c0" stroke-width="0.45" />
<line x1="293.70" y1="389.41" x2="294.90" y2="389.41" stroke="#c0c0c0" stroke-width="0.45" />
<line x1="293.70" y1="390.80" x2="294.90" y2="390.80" stroke="#c0c0c0" stroke-width="0.45" />
<rect x="100.00" y="341.00" width="82.00" height="12.80" fill="rgba(255,255,255,0.8)" />
<circle cx="105.2" cy="347.30" r="2.3" fill="#ececec" stroke="#9c9c9c" stroke-width="0.7"/>
<path d="M104.2 346.30 L106.2 348.30 M106.2 346.30 L104.2 348.30" fill="none" stroke="#a8a8a8" stroke-width="0.6" />
<text x="111.00" y="349.51" font-size="6.3" fill="#2e2e2e" textLength="62.10" lengthAdjust="spacingAndGlyphs" stroke="#2e2e2e" stroke-width="0.3" >Galactose (2%) - Minus</text>
<path d="M159.8 414.2 L163.8 416.0 L170.0 423.8 L171.5 424.6 L177.0 425.8 L178.5 423.0 L182.3 420.0 L188.5 417.0 L194.6 417.2 L197.7 415.8 L208.5 415.0 L214.6 414.5 L217.7 416.6 L220.0 419.0 L223.0 420.5 L226.0 421.8 L229.0 423.2 L232.0 424.5 L233.5 427.5 L236.0 429.5 L238.5 431.2 L240.8 432.3 L243.0 431.5 L245.0 430.0 L248.0 429.0 L251.0 428.5 L254.0 429.2 L257.0 430.0 L260.0 429.0 L263.0 428.3 L267.0 427.5 L272.0 426.3 L276.0 425.6 L279.0 424.8 L280.8 421.5 L282.3 417.0 L283.8 414.2 Z" fill="#e6211f" stroke="none" stroke-width="1" />
<path d="M323.8 414.2 L324.6 418.0 L325.7 428.8 L327.0 433.4 L330.8 435.7 L333.0 439.5 L334.6 444.2 L336.2 447.0 L349.2 447.0 L350.0 442.6 L354.6 441.4 L356.2 436.5 L357.7 428.8 L359.2 421.0 L360.8 415.7 L361.5 414.2 Z" fill="#e6211f" stroke="none" stroke-width="1" />
<path d="M433.8 414.2 L440.0 418.5 L443.8 422.5 L465.0 423.0 L467.5 421.8 L475.0 421.8 L477.5 420.5 L479.5 416.0 L481.0 414.2 Z" fill="#e6211f" stroke="none" stroke-width="1" />
<path d="M100.0 414.2 L100.0 409.9 L120.0 410.1 L140.0 410.5 L152.0 411.2 L157.0 412.4 L159.8 414.2 Z" fill="#2f4fa3" stroke="none" stroke-width="1" />
<path d="M283.8 414.2 L285.4 410.8 L288.5 406.2 L291.0 405.4 L316.0 405.4 L320.0 408.0 L322.3 411.0 L323.6 414.2 Z" fill="#2f4fa3" stroke="none" stroke-width="1" />
<path d="M361.5 414.2 L363.8 412.2 L367.0 411.2 L393.8 411.2 L397.5 413.6 L400.0 413.4 L403.8 410.2 L427.5 410.2 L430.5 411.5 L433.8 414.2 Z" fill="#2f4fa3" stroke="none" stroke-width="1" />
<path d="M481.0 414.2 L483.0 413.2 L488.0 413.2 L488.0 414.2 Z" fill="#2f4fa3" stroke="none" stroke-width="1" />
<line x1="294.90" y1="401.80" x2="294.90" y2="450.80" stroke="#b8b8b8" stroke-width="0.7" />
<line x1="292.50" y1="401.80" x2="294.90" y2="401.80" stroke="#b0b0b0" stroke-width="0.6" />
<text x="290.00" y="403.48" font-size="4.7" fill="#2a2a2a" text-anchor="end" >2</text>
<line x1="292.50" y1="408.00" x2="294.90" y2="408.00" stroke="#b0b0b0" stroke-width="0.6" />
<text x="290.00" y="409.68" font-size="4.7" fill="#2a2a2a" text-anchor="end" >1</text>
<line x1="292.50" y1="414.20" x2="294.90" y2="414.20" stroke="#b0b0b0" stroke-width="0.6" />
<text x="290.00" y="415.88" font-size="4.7" fill="#2a2a2a" text-anchor="end" >0</text>
<line x1="292.50" y1="420.30" x2="294.90" y2="420.30" stroke="#b0b0b0" stroke-width="0.6" />
<text x="290.00" y="421.98" font-size="4.7" fill="#2a2a2a" text-anchor="end" >-1</text>
<line x1="292.50" y1="426.40" x2="294.90" y2="426.40" stroke="#b0b0b0" stroke-width="0.6" />
<text x="290.00" y="428.08" font-size="4.7" fill="#2a2a2a" text-anchor="end" >-2</text>
<line x1="292.50" y1="432.50" x2="294.90" y2="432.50" stroke="#b0b0b0" stroke-width="0.6" />
<text x="290.00" y="434.18" font-size="4.7" fill="#2a2a2a" text-anchor="end" >-3</text>
<line x1="292.50" y1="438.60" x2="294.90" y2="438.60" stroke="#b0b0b0" stroke-width="0.6" />
<text x="290.00" y="440.28" font-size="4.7" fill="#2a2a2a" text-anchor="end" >-4</text>
<line x1="292.50" y1="444.70" x2="294.90" y2="444.70" stroke="#b0b0b0" stroke-width="0.6" />
<text x="290.00" y="446.38" font-size="4.7" fill="#2a2a2a" text-anchor="end" >-5</text>
<line x1="292.50" y1="450.80" x2="294.90" y2="450.80" stroke="#b0b0b0" stroke-width="0.6" />
<text x="290.00" y="452.48" font-size="4.7" fill="#2a2a2a" text-anchor="end" >-6</text>
<line x1="293.70" y1="401.80" x2="294.90" y2="401.80" stroke="#c0c0c0" stroke-width="0.45" />
<line x1="293.70" y1="403.03" x2="294.90" y2="403.03" stroke="#c0c0c0" stroke-width="0.45" />
<line x1="293.70" y1="404.25" x2="294.90" y2="404.25" stroke="#c0c0c0" stroke-width="0.45" />
<line x1="293.70" y1="405.48" x2="294.90" y2="405.48" stroke="#c0c0c0" stroke-width="0.45" />
<line x1="293.70" y1="406.70" x2="294.90" y2="406.70" stroke="#c0c0c0" stroke-width="0.45" />
<line x1="293.70" y1="407.93" x2="294.90" y2="407.93" stroke="#c0c0c0" stroke-width="0.45" />
<line x1="293.70" y1="409.15" x2="294.90" y2="409.15" stroke="#c0c0c0" stroke-width="0.45" />
<line x1="293.70" y1="410.38" x2="294.90" y2="410.38" stroke="#c0c0c0" stroke-width="0.45" />
<line x1="293.70" y1="411.60" x2="294.90" y2="411.60" stroke="#c0c0c0" stroke-width="0.45" />
<line x1="293.70" y1="412.82" x2="294.90" y2="412.82" stroke="#c0c0c0" stroke-width="0.45" />
<line x1="293.70" y1="414.05" x2="294.90" y2="414.05" stroke="#c0c0c0" stroke-width="0.45" />
<line x1="293.70" y1="415.28" x2="294.90" y2="415.28" stroke="#c0c0c0" stroke-width="0.45" />
<line x1="293.70" y1="416.50" x2="294.90" y2="416.50" stroke="#c0c0c0" stroke-width="0.45" />
<line x1="293.70" y1="417.73" x2="294.90" y2="417.73" stroke="#c0c0c0" stroke-width="0.45" />
<line x1="293.70" y1="418.95" x2="294.90" y2="418.95" stroke="#c0c0c0" stroke-width="0.45" />
<line x1="293.70" y1="420.18" x2="294.90" y2="420.18" stroke="#c0c0c0" stroke-width="0.45" />
<line x1="293.70" y1="421.40" x2="294.90" y2="421.40" stroke="#c0c0c0" stroke-width="0.45" />
<line x1="293.70" y1="422.62" x2="294.90" y2="422.62" stroke="#c0c0c0" stroke-width="0.45" />
<line x1="293.70" y1="423.85" x2="294.90" y2="423.85" stroke="#c0c0c0" stroke-width="0.45" />
<line x1="293.70" y1="425.07" x2="294.90" y2="425.07" stroke="#c0c0c0" stroke-width="0.45" />
<line x1="293.70" y1="426.30" x2="294.90" y2="426.30" stroke="#c0c0c0" stroke-width="0.45" />
<line x1="293.70" y1="427.53" x2="294.90" y2="427.53" stroke="#c0c0c0" stroke-width="0.45" />
<line x1="293.70" y1="428.75" x2="294.90" y2="428.75" stroke="#c0c0c0" stroke-width="0.45" />
<line x1="293.70" y1="429.98" x2="294.90" y2="429.98" stroke="#c0c0c0" stroke-width="0.45" />
<line x1="293.70" y1="431.20" x2="294.90" y2="431.20" stroke="#c0c0c0" stroke-width="0.45" />
<line x1="293.70" y1="432.43" x2="294.90" y2="432.43" stroke="#c0c0c0" stroke-width="0.45" />
<line x1="293.70" y1="433.65" x2="294.90" y2="433.65" stroke="#c0c0c0" stroke-width="0.45" />
<line x1="293.70" y1="434.88" x2="294.90" y2="434.88" stroke="#c0c0c0" stroke-width="0.45" />
<line x1="293.70" y1="436.10" x2="294.90" y2="436.10" stroke="#c0c0c0" stroke-width="0.45" />
<line x1="293.70" y1="437.33" x2="294.90" y2="437.33" stroke="#c0c0c0" stroke-width="0.45" />
<line x1="293.70" y1="438.55" x2="294.90" y2="438.55" stroke="#c0c0c0" stroke-width="0.45" />
<line x1="293.70" y1="439.78" x2="294.90" y2="439.78" stroke="#c0c0c0" stroke-width="0.45" />
<line x1="293.70" y1="441.00" x2="294.90" y2="441.00" stroke="#c0c0c0" stroke-width="0.45" />
<line x1="293.70" y1="442.23" x2="294.90" y2="442.23" stroke="#c0c0c0" stroke-width="0.45" />
<line x1="293.70" y1="443.45" x2="294.90" y2="443.45" stroke="#c0c0c0" stroke-width="0.45" />
<line x1="293.70" y1="444.68" x2="294.90" y2="444.68" stroke="#c0c0c0" stroke-width="0.45" />
<line x1="293.70" y1="445.90" x2="294.90" y2="445.90" stroke="#c0c0c0" stroke-width="0.45" />
<line x1="293.70" y1="447.12" x2="294.90" y2="447.12" stroke="#c0c0c0" stroke-width="0.45" />
<line x1="293.70" y1="448.35" x2="294.90" y2="448.35" stroke="#c0c0c0" stroke-width="0.45" />
<line x1="293.70" y1="449.58" x2="294.90" y2="449.58" stroke="#c0c0c0" stroke-width="0.45" />
<line x1="293.70" y1="450.80" x2="294.90" y2="450.80" stroke="#c0c0c0" stroke-width="0.45" />
<rect x="100.00" y="402.10" width="59.50" height="11.60" fill="rgba(255,255,255,0.62)" />
<circle cx="105.2" cy="407.20" r="2.3" fill="#ececec" stroke="#9c9c9c" stroke-width="0.7"/>
<path d="M104.2 406.20 L106.2 408.20 M106.2 406.20 L104.2 408.20" fill="none" stroke="#a8a8a8" stroke-width="0.6" />
<text x="111.00" y="409.41" font-size="6.3" fill="#2e2e2e" textLength="45.50" lengthAdjust="spacingAndGlyphs" stroke="#2e2e2e" stroke-width="0.3" >Field_2009_GAL</text>
<path d="M151.5 476.0 L156.0 476.6 L162.3 479.2 L167.0 482.3 L173.0 484.3 L177.7 484.3 L180.8 482.3 L185.4 478.5 L190.0 477.0 L200.8 477.0 L208.5 476.4 L214.6 476.2 L217.7 477.7 L220.0 481.8 L222.3 485.7 L226.0 486.4 L230.8 486.8 L232.0 487.2 L234.6 490.3 L237.0 492.6 L240.0 494.9 L242.0 493.7 L244.6 494.6 L247.7 493.0 L252.0 493.0 L256.0 494.9 L259.0 493.5 L263.0 493.0 L268.0 492.3 L274.0 492.0 L278.0 493.0 L280.0 494.9 L281.5 490.0 L283.0 480.0 L284.6 476.0 Z" fill="#e6211f" stroke="none" stroke-width="1" />
<path d="M324.4 476.0 L325.7 488.8 L326.2 499.5 L330.0 502.6 L333.0 506.5 L336.0 508.0 L343.8 507.5 L350.8 507.2 L353.0 504.0 L355.4 499.5 L357.0 491.8 L358.5 482.6 L359.5 476.0 Z" fill="#e6211f" stroke="none" stroke-width="1" />
<path d="M433.8 476.0 L435.0 479.3 L440.0 480.0 L470.0 480.2 L475.0 482.5 L477.5 480.5 L479.5 476.0 Z" fill="#e6211f" stroke="none" stroke-width="1" />
<path d="M100.0 476.0 L100.0 473.0 L130.0 473.3 L145.0 473.9 L151.5 476.0 Z" fill="#2f4fa3" stroke="none" stroke-width="1" />
<path d="M284.6 476.0 L286.0 472.6 L288.5 468.0 L291.0 466.6 L317.7 466.6 L320.8 469.5 L323.0 473.4 L324.2 476.0 Z" fill="#2f4fa3" stroke="none" stroke-width="1" />
<path d="M359.5 476.0 L360.8 473.4 L363.8 470.3 L367.0 469.8 L393.8 469.8 L397.5 476.0 L402.5 474.2 L405.0 473.6 L428.0 473.6 L430.5 474.3 L433.8 476.0 Z" fill="#2f4fa3" stroke="none" stroke-width="1" />
<path d="M479.5 476.0 L481.0 474.6 L488.0 474.6 L488.0 476.0 Z" fill="#2f4fa3" stroke="none" stroke-width="1" />
<line x1="294.90" y1="462.60" x2="294.90" y2="509.90" stroke="#b8b8b8" stroke-width="0.7" />
<line x1="292.50" y1="462.60" x2="294.90" y2="462.60" stroke="#b0b0b0" stroke-width="0.6" />
<text x="290.00" y="464.32" font-size="4.8" fill="#2a2a2a" text-anchor="end" >2</text>
<line x1="292.50" y1="469.30" x2="294.90" y2="469.30" stroke="#b0b0b0" stroke-width="0.6" />
<text x="290.00" y="471.02" font-size="4.8" fill="#2a2a2a" text-anchor="end" >1</text>
<line x1="292.50" y1="476.00" x2="294.90" y2="476.00" stroke="#b0b0b0" stroke-width="0.6" />
<text x="290.00" y="477.72" font-size="4.8" fill="#2a2a2a" text-anchor="end" >0</text>
<line x1="292.50" y1="482.70" x2="294.90" y2="482.70" stroke="#b0b0b0" stroke-width="0.6" />
<text x="290.00" y="484.42" font-size="4.8" fill="#2a2a2a" text-anchor="end" >-1</text>
<line x1="292.50" y1="489.50" x2="294.90" y2="489.50" stroke="#b0b0b0" stroke-width="0.6" />
<text x="290.00" y="491.22" font-size="4.8" fill="#2a2a2a" text-anchor="end" >-2</text>
<line x1="292.50" y1="496.30" x2="294.90" y2="496.30" stroke="#b0b0b0" stroke-width="0.6" />
<text x="290.00" y="498.02" font-size="4.8" fill="#2a2a2a" text-anchor="end" >-3</text>
<line x1="292.50" y1="503.10" x2="294.90" y2="503.10" stroke="#b0b0b0" stroke-width="0.6" />
<text x="290.00" y="504.82" font-size="4.8" fill="#2a2a2a" text-anchor="end" >-4</text>
<line x1="292.50" y1="509.90" x2="294.90" y2="509.90" stroke="#b0b0b0" stroke-width="0.6" />
<text x="290.00" y="511.62" font-size="4.8" fill="#2a2a2a" text-anchor="end" >-5</text>
<line x1="293.70" y1="462.60" x2="294.90" y2="462.60" stroke="#c0c0c0" stroke-width="0.45" />
<line x1="293.70" y1="463.95" x2="294.90" y2="463.95" stroke="#c0c0c0" stroke-width="0.45" />
<line x1="293.70" y1="465.30" x2="294.90" y2="465.30" stroke="#c0c0c0" stroke-width="0.45" />
<line x1="293.70" y1="466.65" x2="294.90" y2="466.65" stroke="#c0c0c0" stroke-width="0.45" />
<line x1="293.70" y1="468.01" x2="294.90" y2="468.01" stroke="#c0c0c0" stroke-width="0.45" />
<line x1="293.70" y1="469.36" x2="294.90" y2="469.36" stroke="#c0c0c0" stroke-width="0.45" />
<line x1="293.70" y1="470.71" x2="294.90" y2="470.71" stroke="#c0c0c0" stroke-width="0.45" />
<line x1="293.70" y1="472.06" x2="294.90" y2="472.06" stroke="#c0c0c0" stroke-width="0.45" />
<line x1="293.70" y1="473.41" x2="294.90" y2="473.41" stroke="#c0c0c0" stroke-width="0.45" />
<line x1="293.70" y1="474.76" x2="294.90" y2="474.76" stroke="#c0c0c0" stroke-width="0.45" />
<line x1="293.70" y1="476.11" x2="294.90" y2="476.11" stroke="#c0c0c0" stroke-width="0.45" />
<line x1="293.70" y1="477.47" x2="294.90" y2="477.47" stroke="#c0c0c0" stroke-width="0.45" />
<line x1="293.70" y1="478.82" x2="294.90" y2="478.82" stroke="#c0c0c0" stroke-width="0.45" />
<line x1="293.70" y1="480.17" x2="294.90" y2="480.17" stroke="#c0c0c0" stroke-width="0.45" />
<line x1="293.70" y1="481.52" x2="294.90" y2="481.52" stroke="#c0c0c0" stroke-width="0.45" />
<line x1="293.70" y1="482.87" x2="294.90" y2="482.87" stroke="#c0c0c0" stroke-width="0.45" />
<line x1="293.70" y1="484.22" x2="294.90" y2="484.22" stroke="#c0c0c0" stroke-width="0.45" />
<line x1="293.70" y1="485.57" x2="294.90" y2="485.57" stroke="#c0c0c0" stroke-width="0.45" />
<line x1="293.70" y1="486.93" x2="294.90" y2="486.93" stroke="#c0c0c0" stroke-width="0.45" />
<line x1="293.70" y1="488.28" x2="294.90" y2="488.28" stroke="#c0c0c0" stroke-width="0.45" />
<line x1="293.70" y1="489.63" x2="294.90" y2="489.63" stroke="#c0c0c0" stroke-width="0.45" />
<line x1="293.70" y1="490.98" x2="294.90" y2="490.98" stroke="#c0c0c0" stroke-width="0.45" />
<line x1="293.70" y1="492.33" x2="294.90" y2="492.33" stroke="#c0c0c0" stroke-width="0.45" />
<line x1="293.70" y1="493.68" x2="294.90" y2="493.68" stroke="#c0c0c0" stroke-width="0.45" />
<line x1="293.70" y1="495.03" x2="294.90" y2="495.03" stroke="#c0c0c0" stroke-width="0.45" />
<line x1="293.70" y1="496.39" x2="294.90" y2="496.39" stroke="#c0c0c0" stroke-width="0.45" />
<line x1="293.70" y1="497.74" x2="294.90" y2="497.74" stroke="#c0c0c0" stroke-width="0.45" />
<line x1="293.70" y1="499.09" x2="294.90" y2="499.09" stroke="#c0c0c0" stroke-width="0.45" />
<line x1="293.70" y1="500.44" x2="294.90" y2="500.44" stroke="#c0c0c0" stroke-width="0.45" />
<line x1="293.70" y1="501.79" x2="294.90" y2="501.79" stroke="#c0c0c0" stroke-width="0.45" />
<line x1="293.70" y1="503.14" x2="294.90" y2="503.14" stroke="#c0c0c0" stroke-width="0.45" />
<line x1="293.70" y1="504.49" x2="294.90" y2="504.49" stroke="#c0c0c0" stroke-width="0.45" />
<line x1="293.70" y1="505.85" x2="294.90" y2="505.85" stroke="#c0c0c0" stroke-width="0.45" />
<line x1="293.70" y1="507.20" x2="294.90" y2="507.20" stroke="#c0c0c0" stroke-width="0.45" />
<line x1="293.70" y1="508.55" x2="294.90" y2="508.55" stroke="#c0c0c0" stroke-width="0.45" />
<line x1="293.70" y1="509.90" x2="294.90" y2="509.90" stroke="#c0c0c0" stroke-width="0.45" />
<rect x="100.00" y="462.00" width="60.00" height="11.60" fill="rgba(255,255,255,0.62)" />
<circle cx="105.2" cy="467.10" r="2.3" fill="#ececec" stroke="#9c9c9c" stroke-width="0.7"/>
<path d="M104.2 466.10 L106.2 468.10 M106.2 466.10 L104.2 468.10" fill="none" stroke="#a8a8a8" stroke-width="0.6" />
<text x="111.00" y="469.31" font-size="6.3" fill="#2e2e2e" textLength="46.00" lengthAdjust="spacingAndGlyphs" stroke="#2e2e2e" stroke-width="0.3" >Field_2009_YPD</text>
<rect x="333.80" y="521.60" width="2.40" height="4.20" fill="#e1a928" stroke="#c38e18" stroke-width="0.3"/>
<path d="M333.50 522.60 L331.00 523.70 L333.50 524.80 Z" fill="#111" stroke="none" stroke-width="1" />
<text x="329.70" y="531.86" font-size="5.95" fill="#1a1a1a" stroke="#1a1a1a" stroke-width="0.12" >orphan_TATA_like_element</text>
<rect x="354.00" y="535.90" width="2.40" height="4.20" fill="#e1a928" stroke="#c38e18" stroke-width="0.3"/>
<path d="M356.70 536.90 L359.20 538.00 L356.70 539.10 Z" fill="#111" stroke="none" stroke-width="1" />
<text x="354.00" y="546.06" font-size="5.95" fill="#1a1a1a" stroke="#1a1a1a" stroke-width="0.12" >orphan_TATA_like_element</text>
<rect x="100.00" y="521.90" width="47.00" height="11.60" fill="rgba(255,255,255,0.8)" />
<circle cx="105.2" cy="527.00" r="2.3" fill="#ececec" stroke="#9c9c9c" stroke-width="0.7"/>
<path d="M104.2 526.00 L106.2 528.00 M106.2 526.00 L104.2 528.00" fill="none" stroke="#a8a8a8" stroke-width="0.6" />
<text x="111.00" y="529.21" font-size="6.3" fill="#2e2e2e" textLength="31.50" lengthAdjust="spacingAndGlyphs" stroke="#2e2e2e" stroke-width="0.3" >Rhee_2012</text>
<rect x="213.80" y="558.80" width="4.90" height="4.90" fill="#e1a928" stroke="#c38e18" stroke-width="0.3"/>
<path d="M219.00 560.15 L221.50 561.25 L219.00 562.35 Z" fill="#111" stroke="none" stroke-width="1" />
<text x="213.80" y="569.46" font-size="5.95" fill="#1a1a1a" stroke="#1a1a1a" stroke-width="0.12" >SPT15_798</text>
<rect x="213.80" y="572.90" width="4.90" height="4.80" fill="#e1a928" stroke="#c38e18" stroke-width="0.3"/>
<path d="M219.00 574.20 L221.50 575.30 L219.00 576.40 Z" fill="#111" stroke="none" stroke-width="1" />
<text x="213.80" y="583.16" font-size="5.95" fill="#1a1a1a" stroke="#1a1a1a" stroke-width="0.12" >NHP6B_792</text>
<rect x="252.90" y="587.30" width="4.80" height="4.80" fill="#e1a928" stroke="#c38e18" stroke-width="0.3"/>
<path d="M252.60 588.60 L250.10 589.70 L252.60 590.80 Z" fill="#111" stroke="none" stroke-width="1" />
<text x="248.20" y="597.16" font-size="5.95" fill="#1a1a1a" stroke="#1a1a1a" stroke-width="0.12" >NHP6B_792</text>
<rect x="100.00" y="559.60" width="47.00" height="11.60" fill="rgba(255,255,255,0.8)" />
<path d="M102.8 561.6 L107.6 564.6 L102.8 567.8 Z" fill="#e8e8e8" stroke="#9a9a9a" stroke-width="0.6" />
<text x="110.90" y="566.80" font-size="6.0" fill="#333" font-weight="bold" textLength="25.80" lengthAdjust="spacingAndGlyphs" >p0.00001</text>
<rect x="113.50" y="568.60" width="1.60" height="0.50" fill="#bbb" />
<rect x="117.00" y="568.60" width="1.60" height="0.50" fill="#bbb" />
<rect x="120.50" y="568.60" width="1.60" height="0.50" fill="#bbb" />
<rect x="124.00" y="568.60" width="1.60" height="0.50" fill="#bbb" />
<line x1="100.00" y1="649.50" x2="488.00" y2="649.50" stroke="#b4b4b4" stroke-width="0.7" />
<rect x="106.25" y="629.50" width="1.10" height="20.00" fill="#5c66b8" />
<rect x="122.05" y="629.00" width="1.10" height="20.50" fill="#5c66b8" />
<rect x="138.05" y="629.00" width="1.10" height="20.50" fill="#5c66b8" />
<rect x="154.05" y="636.00" width="1.10" height="13.50" fill="#5c66b8" />
<rect x="169.85" y="636.00" width="1.10" height="13.50" fill="#5c66b8" />
<rect x="185.65" y="636.00" width="1.10" height="13.50" fill="#5c66b8" />
<rect x="201.55" y="636.00" width="1.10" height="13.50" fill="#5c66b8" />
<rect x="217.45" y="645.50" width="1.10" height="4.00" fill="#5c66b8" />
<line x1="294.90" y1="625.00" x2="294.90" y2="673.90" stroke="#b8b8b8" stroke-width="0.7" />
<line x1="292.50" y1="625.00" x2="294.90" y2="625.00" stroke="#b0b0b0" stroke-width="0.6" />
<text x="290.00" y="626.65" font-size="4.6" fill="#2a2a2a" text-anchor="end" >4</text>
<line x1="292.50" y1="631.10" x2="294.90" y2="631.10" stroke="#b0b0b0" stroke-width="0.6" />
<text x="290.00" y="632.75" font-size="4.6" fill="#2a2a2a" text-anchor="end" >3</text>
<line x1="292.50" y1="637.20" x2="294.90" y2="637.20" stroke="#b0b0b0" stroke-width="0.6" />
<text x="290.00" y="638.85" font-size="4.6" fill="#2a2a2a" text-anchor="end" >2</text>
<line x1="292.50" y1="643.40" x2="294.90" y2="643.40" stroke="#b0b0b0" stroke-width="0.6" />
<text x="290.00" y="645.05" font-size="4.6" fill="#2a2a2a" text-anchor="end" >1</text>
<line x1="292.50" y1="649.50" x2="294.90" y2="649.50" stroke="#b0b0b0" stroke-width="0.6" />
<text x="290.00" y="651.15" font-size="4.6" fill="#2a2a2a" text-anchor="end" >0</text>
<line x1="292.50" y1="655.60" x2="294.90" y2="655.60" stroke="#b0b0b0" stroke-width="0.6" />
<text x="290.00" y="657.25" font-size="4.6" fill="#2a2a2a" text-anchor="end" >-1</text>
<line x1="292.50" y1="661.70" x2="294.90" y2="661.70" stroke="#b0b0b0" stroke-width="0.6" />
<text x="290.00" y="663.35" font-size="4.6" fill="#2a2a2a" text-anchor="end" >-2</text>
<line x1="292.50" y1="667.80" x2="294.90" y2="667.80" stroke="#b0b0b0" stroke-width="0.6" />
<text x="290.00" y="669.45" font-size="4.6" fill="#2a2a2a" text-anchor="end" >-3</text>
<line x1="292.50" y1="673.90" x2="294.90" y2="673.90" stroke="#b0b0b0" stroke-width="0.6" />
<text x="290.00" y="675.55" font-size="4.6" fill="#2a2a2a" text-anchor="end" >-4</text>
<line x1="293.70" y1="625.00" x2="294.90" y2="625.00" stroke="#c0c0c0" stroke-width="0.45" />
<line x1="293.70" y1="626.22" x2="294.90" y2="626.22" stroke="#c0c0c0" stroke-width="0.45" />
<line x1="293.70" y1="627.45" x2="294.90" y2="627.45" stroke="#c0c0c0" stroke-width="0.45" />
<line x1="293.70" y1="628.67" x2="294.90" y2="628.67" stroke="#c0c0c0" stroke-width="0.45" />
<line x1="293.70" y1="629.89" x2="294.90" y2="629.89" stroke="#c0c0c0" stroke-width="0.45" />
<line x1="293.70" y1="631.11" x2="294.90" y2="631.11" stroke="#c0c0c0" stroke-width="0.45" />
<line x1="293.70" y1="632.34" x2="294.90" y2="632.34" stroke="#c0c0c0" stroke-width="0.45" />
<line x1="293.70" y1="633.56" x2="294.90" y2="633.56" stroke="#c0c0c0" stroke-width="0.45" />
<line x1="293.70" y1="634.78" x2="294.90" y2="634.78" stroke="#c0c0c0" stroke-width="0.45" />
<line x1="293.70" y1="636.00" x2="294.90" y2="636.00" stroke="#c0c0c0" stroke-width="0.45" />
<line x1="293.70" y1="637.23" x2="294.90" y2="637.23" stroke="#c0c0c0" stroke-width="0.45" />
<line x1="293.70" y1="638.45" x2="294.90" y2="638.45" stroke="#c0c0c0" stroke-width="0.45" />
<line x1="293.70" y1="639.67" x2="294.90" y2="639.67" stroke="#c0c0c0" stroke-width="0.45" />
<line x1="293.70" y1="640.89" x2="294.90" y2="640.89" stroke="#c0c0c0" stroke-width="0.45" />
<line x1="293.70" y1="642.12" x2="294.90" y2="642.12" stroke="#c0c0c0" stroke-width="0.45" />
<line x1="293.70" y1="643.34" x2="294.90" y2="643.34" stroke="#c0c0c0" stroke-width="0.45" />
<line x1="293.70" y1="644.56" x2="294.90" y2="644.56" stroke="#c0c0c0" stroke-width="0.45" />
<line x1="293.70" y1="645.78" x2="294.90" y2="645.78" stroke="#c0c0c0" stroke-width="0.45" />
<line x1="293.70" y1="647.00" x2="294.90" y2="647.00" stroke="#c0c0c0" stroke-width="0.45" />
<line x1="293.70" y1="648.23" x2="294.90" y2="648.23" stroke="#c0c0c0" stroke-width="0.45" />
<line x1="293.70" y1="649.45" x2="294.90" y2="649.45" stroke="#c0c0c0" stroke-width="0.45" />
<line x1="293.70" y1="650.67" x2="294.90" y2="650.67" stroke="#c0c0c0" stroke-width="0.45" />
<line x1="293.70" y1="651.89" x2="294.90" y2="651.89" stroke="#c0c0c0" stroke-width="0.45" />
<line x1="293.70" y1="653.12" x2="294.90" y2="653.12" stroke="#c0c0c0" stroke-width="0.45" />
<line x1="293.70" y1="654.34" x2="294.90" y2="654.34" stroke="#c0c0c0" stroke-width="0.45" />
<line x1="293.70" y1="655.56" x2="294.90" y2="655.56" stroke="#c0c0c0" stroke-width="0.45" />
<line x1="293.70" y1="656.78" x2="294.90" y2="656.78" stroke="#c0c0c0" stroke-width="0.45" />
<line x1="293.70" y1="658.01" x2="294.90" y2="658.01" stroke="#c0c0c0" stroke-width="0.45" />
<line x1="293.70" y1="659.23" x2="294.90" y2="659.23" stroke="#c0c0c0" stroke-width="0.45" />
<line x1="293.70" y1="660.45" x2="294.90" y2="660.45" stroke="#c0c0c0" stroke-width="0.45" />
<line x1="293.70" y1="661.67" x2="294.90" y2="661.67" stroke="#c0c0c0" stroke-width="0.45" />
<line x1="293.70" y1="662.90" x2="294.90" y2="662.90" stroke="#c0c0c0" stroke-width="0.45" />
<line x1="293.70" y1="664.12" x2="294.90" y2="664.12" stroke="#c0c0c0" stroke-width="0.45" />
<line x1="293.70" y1="665.34" x2="294.90" y2="665.34" stroke="#c0c0c0" stroke-width="0.45" />
<line x1="293.70" y1="666.56" x2="294.90" y2="666.56" stroke="#c0c0c0" stroke-width="0.45" />
<line x1="293.70" y1="667.79" x2="294.90" y2="667.79" stroke="#c0c0c0" stroke-width="0.45" />
<line x1="293.70" y1="669.01" x2="294.90" y2="669.01" stroke="#c0c0c0" stroke-width="0.45" />
<line x1="293.70" y1="670.23" x2="294.90" y2="670.23" stroke="#c0c0c0" stroke-width="0.45" />
<line x1="293.70" y1="671.45" x2="294.90" y2="671.45" stroke="#c0c0c0" stroke-width="0.45" />
<line x1="293.70" y1="672.68" x2="294.90" y2="672.68" stroke="#c0c0c0" stroke-width="0.45" />
<line x1="293.70" y1="673.90" x2="294.90" y2="673.90" stroke="#c0c0c0" stroke-width="0.45" />
<rect x="100.00" y="625.20" width="91.00" height="11.60" fill="rgba(255,255,255,0.8)" />
<circle cx="105.2" cy="630.30" r="2.3" fill="#ececec" stroke="#9c9c9c" stroke-width="0.7"/>
<path d="M104.2 629.30 L106.2 631.30 M106.2 629.30 L104.2 631.30" fill="none" stroke="#a8a8a8" stroke-width="0.6" />
<text x="111.00" y="632.51" font-size="6.3" fill="#2e2e2e" textLength="69.40" lengthAdjust="spacingAndGlyphs" stroke="#2e2e2e" stroke-width="0.3" >Kirmizis_2007_H3K4me1</text>
<rect x="106.05" y="714.60" width="1.10" height="19.20" fill="#5c66b8" />
<rect x="122.05" y="714.60" width="1.10" height="19.20" fill="#5c66b8" />
<rect x="138.05" y="700.00" width="1.10" height="33.80" fill="#5c66b8" />
<rect x="154.05" y="696.00" width="1.10" height="37.80" fill="#5c66b8" />
<rect x="169.85" y="698.50" width="1.10" height="35.30" fill="#5c66b8" />
<rect x="185.65" y="698.50" width="1.10" height="35.30" fill="#5c66b8" />
<rect x="201.55" y="702.00" width="1.10" height="31.80" fill="#5c66b8" />
<rect x="217.45" y="709.00" width="1.10" height="24.80" fill="#5c66b8" />
<rect x="237.05" y="700.00" width="1.10" height="33.80" fill="#5c66b8" />
<rect x="252.95" y="700.00" width="1.10" height="33.80" fill="#5c66b8" />
<rect x="269.05" y="710.00" width="1.10" height="23.80" fill="#5c66b8" />
<rect x="284.85" y="699.20" width="1.10" height="34.60" fill="#5c66b8" />
<rect x="300.25" y="708.80" width="1.10" height="25.00" fill="#5c66b8" />
<rect x="316.45" y="720.40" width="1.10" height="13.40" fill="#5c66b8" />
<rect x="331.45" y="733.00" width="1.10" height="0.80" fill="#5c66b8" />
<rect x="347.95" y="733.00" width="1.10" height="0.80" fill="#5c66b8" />
<rect x="364.45" y="726.50" width="1.10" height="7.30" fill="#5c66b8" />
<rect x="380.25" y="733.00" width="1.10" height="0.80" fill="#5c66b8" />
<rect x="396.45" y="733.00" width="1.10" height="0.80" fill="#5c66b8" />
<rect x="411.45" y="726.50" width="1.10" height="7.30" fill="#5c66b8" />
<rect x="427.95" y="724.00" width="1.10" height="9.80" fill="#5c66b8" />
<rect x="444.05" y="716.50" width="1.10" height="17.30" fill="#5c66b8" />
<rect x="459.85" y="715.00" width="1.10" height="18.80" fill="#5c66b8" />
<rect x="475.95" y="718.00" width="1.10" height="15.80" fill="#5c66b8" />
<line x1="294.90" y1="684.40" x2="294.90" y2="733.80" stroke="#b8b8b8" stroke-width="0.7" />
<line x1="292.50" y1="684.40" x2="294.90" y2="684.40" stroke="#b0b0b0" stroke-width="0.6" />
<text x="290.00" y="686.40" font-size="5.6" fill="#2a2a2a" text-anchor="end" >5</text>
<line x1="292.50" y1="694.30" x2="294.90" y2="694.30" stroke="#b0b0b0" stroke-width="0.6" />
<text x="290.00" y="696.30" font-size="5.6" fill="#2a2a2a" text-anchor="end" >4</text>
<line x1="292.50" y1="704.20" x2="294.90" y2="704.20" stroke="#b0b0b0" stroke-width="0.6" />
<text x="290.00" y="706.20" font-size="5.6" fill="#2a2a2a" text-anchor="end" >3</text>
<line x1="292.50" y1="714.00" x2="294.90" y2="714.00" stroke="#b0b0b0" stroke-width="0.6" />
<text x="290.00" y="716.00" font-size="5.6" fill="#2a2a2a" text-anchor="end" >2</text>
<line x1="292.50" y1="723.90" x2="294.90" y2="723.90" stroke="#b0b0b0" stroke-width="0.6" />
<text x="290.00" y="725.90" font-size="5.6" fill="#2a2a2a" text-anchor="end" >1</text>
<line x1="292.50" y1="733.80" x2="294.90" y2="733.80" stroke="#b0b0b0" stroke-width="0.6" />
<text x="290.00" y="735.80" font-size="5.6" fill="#2a2a2a" text-anchor="end" >0</text>
<line x1="293.70" y1="684.40" x2="294.90" y2="684.40" stroke="#c0c0c0" stroke-width="0.45" />
<line x1="293.70" y1="686.38" x2="294.90" y2="686.38" stroke="#c0c0c0" stroke-width="0.45" />
<line x1="293.70" y1="688.35" x2="294.90" y2="688.35" stroke="#c0c0c0" stroke-width="0.45" />
<line x1="293.70" y1="690.33" x2="294.90" y2="690.33" stroke="#c0c0c0" stroke-width="0.45" />
<line x1="293.70" y1="692.30" x2="294.90" y2="692.30" stroke="#c0c0c0" stroke-width="0.45" />
<line x1="293.70" y1="694.28" x2="294.90" y2="694.28" stroke="#c0c0c0" stroke-width="0.45" />
<line x1="293.70" y1="696.26" x2="294.90" y2="696.26" stroke="#c0c0c0" stroke-width="0.45" />
<line x1="293.70" y1="698.23" x2="294.90" y2="698.23" stroke="#c0c0c0" stroke-width="0.45" />
<line x1="293.70" y1="700.21" x2="294.90" y2="700.21" stroke="#c0c0c0" stroke-width="0.45" />
<line x1="293.70" y1="702.18" x2="294.90" y2="702.18" stroke="#c0c0c0" stroke-width="0.45" />
<line x1="293.70" y1="704.16" x2="294.90" y2="704.16" stroke="#c0c0c0" stroke-width="0.45" />
<line x1="293.70" y1="706.14" x2="294.90" y2="706.14" stroke="#c0c0c0" stroke-width="0.45" />
<line x1="293.70" y1="708.11" x2="294.90" y2="708.11" stroke="#c0c0c0" stroke-width="0.45" />
<line x1="293.70" y1="710.09" x2="294.90" y2="710.09" stroke="#c0c0c0" stroke-width="0.45" />
<line x1="293.70" y1="712.06" x2="294.90" y2="712.06" stroke="#c0c0c0" stroke-width="0.45" />
<line x1="293.70" y1="714.04" x2="294.90" y2="714.04" stroke="#c0c0c0" stroke-width="0.45" />
<line x1="293.70" y1="716.02" x2="294.90" y2="716.02" stroke="#c0c0c0" stroke-width="0.45" />
<line x1="293.70" y1="717.99" x2="294.90" y2="717.99" stroke="#c0c0c0" stroke-width="0.45" />
<line x1="293.70" y1="719.97" x2="294.90" y2="719.97" stroke="#c0c0c0" stroke-width="0.45" />
<line x1="293.70" y1="721.94" x2="294.90" y2="721.94" stroke="#c0c0c0" stroke-width="0.45" />
<line x1="293.70" y1="723.92" x2="294.90" y2="723.92" stroke="#c0c0c0" stroke-width="0.45" />
<line x1="293.70" y1="725.90" x2="294.90" y2="725.90" stroke="#c0c0c0" stroke-width="0.45" />
<line x1="293.70" y1="727.87" x2="294.90" y2="727.87" stroke="#c0c0c0" stroke-width="0.45" />
<line x1="293.70" y1="729.85" x2="294.90" y2="729.85" stroke="#c0c0c0" stroke-width="0.45" />
<line x1="293.70" y1="731.82" x2="294.90" y2="731.82" stroke="#c0c0c0" stroke-width="0.45" />
<line x1="293.70" y1="733.80" x2="294.90" y2="733.80" stroke="#c0c0c0" stroke-width="0.45" />
<text x="290.30" y="746.00" font-size="5.6" fill="#2a2a2a" text-anchor="end" >7</text>
<text x="290.30" y="753.00" font-size="5.6" fill="#2a2a2a" text-anchor="end" >6</text>
<line x1="295.20" y1="744.00" x2="295.20" y2="751.00" stroke="#b8b8b8" stroke-width="0.7" />
<rect x="100.00" y="684.80" width="91.00" height="11.60" fill="rgba(255,255,255,0.8)" />
<circle cx="105.2" cy="689.90" r="2.3" fill="#ececec" stroke="#9c9c9c" stroke-width="0.7"/>
<path d="M104.2 688.90 L106.2 690.90 M106.2 688.90 L104.2 690.90" fill="none" stroke="#a8a8a8" stroke-width="0.6" />
<text x="111.00" y="692.11" font-size="6.3" fill="#2e2e2e" textLength="69.80" lengthAdjust="spacingAndGlyphs" stroke="#2e2e2e" stroke-width="0.3" >Kirmizis_2007_H3K4me2</text>
</g>
<circle cx="503.6" cy="76.20" r="7.3" fill="#d71e26"/>
<text x="503.60" y="79.80" font-size="10.0" fill="#ffffff" text-anchor="middle" >A</text>
<circle cx="503.6" cy="136.40" r="7.3" fill="#d71e26"/>
<text x="503.60" y="140.00" font-size="10.0" fill="#ffffff" text-anchor="middle" >B</text>
<circle cx="503.6" cy="186.80" r="7.3" fill="#d71e26"/>
<text x="503.60" y="190.40" font-size="10.0" fill="#ffffff" text-anchor="middle" >C</text>
<circle cx="503.6" cy="254.70" r="7.3" fill="#d71e26"/>
<text x="503.60" y="258.30" font-size="10.0" fill="#ffffff" text-anchor="middle" >D</text>
<circle cx="503.6" cy="290.70" r="7.3" fill="#d71e26"/>
<text x="503.60" y="294.30" font-size="10.0" fill="#ffffff" text-anchor="middle" >E</text>
<circle cx="503.6" cy="353.40" r="7.3" fill="#d71e26"/>
<text x="503.60" y="357.00" font-size="10.0" fill="#ffffff" text-anchor="middle" >F</text>
<circle cx="503.6" cy="420.00" r="7.3" fill="#d71e26"/>
<text x="503.60" y="423.60" font-size="10.0" fill="#ffffff" text-anchor="middle" >G</text>
<circle cx="503.6" cy="477.00" r="7.3" fill="#d71e26"/>
<text x="503.60" y="480.60" font-size="10.0" fill="#ffffff" text-anchor="middle" >H</text>
<circle cx="503.6" cy="530.60" r="7.3" fill="#d71e26"/>
<text x="503.60" y="534.20" font-size="10.0" fill="#ffffff" text-anchor="middle" >I</text>
<circle cx="503.6" cy="577.90" r="7.3" fill="#d71e26"/>
<text x="503.60" y="581.50" font-size="10.0" fill="#ffffff" text-anchor="middle" >J</text>
<circle cx="503.6" cy="635.40" r="7.3" fill="#d71e26"/>
<text x="503.60" y="639.00" font-size="10.0" fill="#ffffff" text-anchor="middle" >K</text>
<circle cx="503.6" cy="719.70" r="7.3" fill="#d71e26"/>
<text x="503.60" y="723.30" font-size="10.0" fill="#ffffff" text-anchor="middle" >L</text>
<rect x="514.00" y="0.00" width="6.00" height="751.00" fill="#f2f2f2" />
<rect x="514.8" y="10.6" width="5.6" height="740" rx="2.8" fill="#7a7a7a"/>
</svg></body></html>
